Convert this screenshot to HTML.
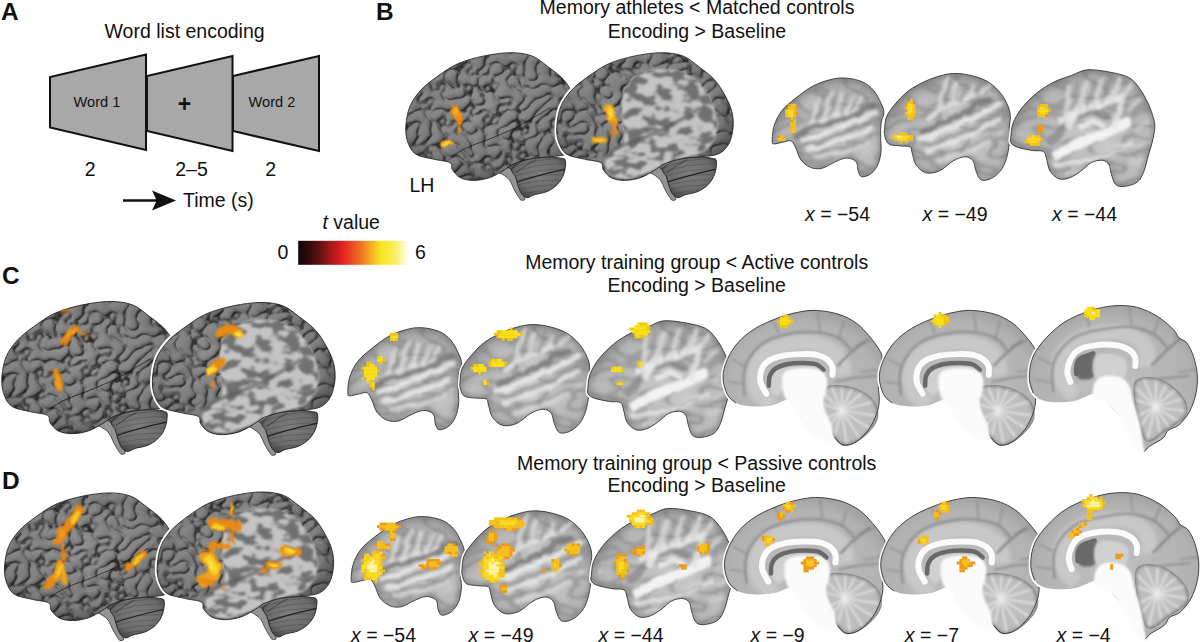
<!DOCTYPE html>
<html><head><meta charset="utf-8">
<style>
html,body{margin:0;padding:0;background:#fff;width:1200px;height:642px;overflow:hidden}
svg{display:block;font-family:"Liberation Sans",sans-serif}
.t{font-size:19.5px;fill:#111}
.lb{font-size:24.4px;font-weight:bold;fill:#111}
</style></head><body>
<svg width="1200" height="642" viewBox="0 0 1200 642">
<defs>

<linearGradient id="cbar" x1="0" x2="1" y1="0" y2="0">
<stop offset="0" stop-color="#0c0606"/><stop offset="0.15" stop-color="#4a0e0e"/><stop offset="0.4" stop-color="#e32020"/>
<stop offset="0.55" stop-color="#ef6a22"/><stop offset="0.75" stop-color="#f8e620"/><stop offset="0.88" stop-color="#f8f060"/>
<stop offset="1" stop-color="#fffff8"/></linearGradient>
<filter id="infl" x="0" y="0" width="1" height="1" color-interpolation-filters="sRGB">
  <feTurbulence type="fractalNoise" baseFrequency="0.07 0.12" numOctaves="2" seed="4" result="n"/>
  <feColorMatrix in="n" type="matrix" values="0 0 0 0 0  0 0 0 0 0  0 0 0 0 0  1 0 0 0 0" result="a"/>
  <feGaussianBlur in="a" stdDeviation="0.6" result="ab"/>
  <feComponentTransfer in="ab" result="m0"><feFuncA type="table" tableValues="1 1 1 1 1 1 1 1 0.9 0.45 0.05 0 0 0 0 0 0 0 0 0"/></feComponentTransfer>
  <feGaussianBlur in="m0" stdDeviation="1.0" result="m"/>
  <feComposite in="SourceGraphic" in2="m" operator="in"/>
</filter>
<filter id="slTex" x="0" y="0" width="1" height="1" color-interpolation-filters="sRGB">
  <feTurbulence type="turbulence" baseFrequency="0.035 0.07" numOctaves="1" seed="21" result="n"/>
  <feColorMatrix in="n" type="matrix" values="0 0 0 0 0  0 0 0 0 0  0 0 0 0 0  1 0 0 0 0" result="a"/>
  <feGaussianBlur in="a" stdDeviation="0.9" result="ab"/>
  <feComponentTransfer in="ab" result="dk"><feFuncA type="table" tableValues="0.4 0.15 0 0 0 0 0 0 0 0"/></feComponentTransfer>
  <feFlood flood-color="#6a6a6a" result="c1"/>
  <feComposite in="c1" in2="dk" operator="in" result="dark"/>
  <feComponentTransfer in="ab" result="lt"><feFuncA type="table" tableValues="0 0 0 0.1 0.3 0.5 0.65 0.75"/></feComponentTransfer>
  <feFlood flood-color="#ececec" result="c2"/>
  <feComposite in="c2" in2="lt" operator="in" result="light"/>
  <feMerge><feMergeNode in="SourceGraphic"/><feMergeNode in="light"/><feMergeNode in="dark"/></feMerge>
  <feComposite in2="SourceAlpha" operator="in"/>
</filter>
<filter id="blur1" filterUnits="userSpaceOnUse" x="-50" y="-50" width="1300" height="750"><feGaussianBlur stdDeviation="1.2"/></filter>
<filter id="blur2" filterUnits="userSpaceOnUse" x="-50" y="-50" width="1300" height="750"><feGaussianBlur stdDeviation="2"/></filter>
<filter id="blur05" filterUnits="userSpaceOnUse" x="-50" y="-50" width="1300" height="750"><feGaussianBlur stdDeviation="0.6"/></filter>
<filter id="blur03" x="-10%" y="-10%" width="120%" height="120%"><feGaussianBlur stdDeviation="0.35"/></filter>
<filter id="bl13" filterUnits="userSpaceOnUse" x="-50" y="-50" width="1300" height="750"><feGaussianBlur stdDeviation="1.7"/></filter>
<filter id="wob" filterUnits="userSpaceOnUse" x="-50" y="-50" width="1300" height="750">
  <feTurbulence type="fractalNoise" baseFrequency="0.12" numOctaves="1" seed="9" result="t"/>
  <feDisplacementMap in="SourceGraphic" in2="t" scale="6" xChannelSelector="R" yChannelSelector="G"/>
  <feGaussianBlur stdDeviation="0.6"/>
</filter>
<filter id="wavy" filterUnits="userSpaceOnUse" x="-50" y="-50" width="1300" height="750">
  <feTurbulence type="fractalNoise" baseFrequency="0.07" numOctaves="2" seed="13" result="t"/>
  <feDisplacementMap in="SourceGraphic" in2="t" scale="7" xChannelSelector="R" yChannelSelector="G"/>
  <feGaussianBlur stdDeviation="1.5"/>
</filter>
<filter id="bl" filterUnits="userSpaceOnUse" x="-50" y="-50" width="1300" height="750"><feGaussianBlur stdDeviation="1.1"/></filter>
<radialGradient id="shade3d" cx="0.45" cy="0.42" r="0.62">
  <stop offset="0" stop-color="#909090"/><stop offset="0.75" stop-color="#808080"/><stop offset="1" stop-color="#585858"/>
</radialGradient>
<radialGradient id="shadeSl" cx="0.55" cy="0.62" r="0.62">
  <stop offset="0" stop-color="#c6c6c6"/><stop offset="0.7" stop-color="#b8b8b8"/><stop offset="1" stop-color="#9c9c9c"/>
</radialGradient>
<radialGradient id="shadeMd" cx="0.5" cy="0.55" r="0.62">
  <stop offset="0" stop-color="#c0c0c0"/><stop offset="0.75" stop-color="#b2b2b2"/><stop offset="1" stop-color="#969696"/>
</radialGradient>
<radialGradient id="cbGrad" cx="0.5" cy="0.4" r="0.6"><stop offset="0" stop-color="#7c7c7c"/><stop offset="0.7" stop-color="#6c6c6c"/><stop offset="1" stop-color="#4a4a4a"/></radialGradient>
<filter id="gyri" x="0" y="0" width="1" height="1" color-interpolation-filters="sRGB">
  <feTurbulence type="turbulence" baseFrequency="0.075 0.085" numOctaves="1" seed="7" result="n"/>
  <feColorMatrix in="n" type="matrix" values="0 0 0 0 0  0 0 0 0 0  0 0 0 0 0  1 0 0 0 0" result="h"/>
  <feGaussianBlur in="h" stdDeviation="0.85" result="hb"/>
  <feComponentTransfer in="hb" result="h2"><feFuncA type="table" tableValues="0 0.72 0.9 0.97 1 1 1 1"/></feComponentTransfer>
  <feDiffuseLighting in="h2" surfaceScale="1.8" diffuseConstant="1.15" lighting-color="#fff" result="light"><feDistantLight azimuth="225" elevation="55"/></feDiffuseLighting>
  <feComposite in="light" in2="SourceGraphic" operator="arithmetic" k1="1" k2="0" k3="0" k4="0" result="lit"/>
  <feComponentTransfer in="hb" result="m0"><feFuncA type="table" tableValues="1 0.7 0.15 0 0 0 0 0 0 0 0 0 0 0 0 0 0 0 0 0 0 0 0 0 0 0 0 0 0 0 0 0 0 0 0 0 0 0 0 0 0 0 0"/></feComponentTransfer>
  <feGaussianBlur in="m0" stdDeviation="0.35" result="m"/>
  <feFlood flood-color="#1e1e1e" result="c"/>
  <feComposite in="c" in2="m" operator="in" result="lines"/>
  <feMerge><feMergeNode in="lit"/><feMergeNode in="lines"/></feMerge>
  <feComposite in2="SourceAlpha" operator="in"/>
</filter><filter id="gyri2" x="0" y="0" width="1" height="1" color-interpolation-filters="sRGB">
  <feTurbulence type="turbulence" baseFrequency="0.075 0.085" numOctaves="1" seed="12" result="n"/>
  <feColorMatrix in="n" type="matrix" values="0 0 0 0 0  0 0 0 0 0  0 0 0 0 0  1 0 0 0 0" result="h"/>
  <feGaussianBlur in="h" stdDeviation="0.85" result="hb"/>
  <feComponentTransfer in="hb" result="h2"><feFuncA type="table" tableValues="0 0.72 0.9 0.97 1 1 1 1"/></feComponentTransfer>
  <feDiffuseLighting in="h2" surfaceScale="1.8" diffuseConstant="1.15" lighting-color="#fff" result="light"><feDistantLight azimuth="225" elevation="55"/></feDiffuseLighting>
  <feComposite in="light" in2="SourceGraphic" operator="arithmetic" k1="1" k2="0" k3="0" k4="0" result="lit"/>
  <feComponentTransfer in="hb" result="m0"><feFuncA type="table" tableValues="1 0.7 0.15 0 0 0 0 0 0 0 0 0 0 0 0 0 0 0 0 0 0 0 0 0 0 0 0 0 0 0 0 0 0 0 0 0 0 0 0 0 0 0 0"/></feComponentTransfer>
  <feGaussianBlur in="m0" stdDeviation="0.35" result="m"/>
  <feFlood flood-color="#1e1e1e" result="c"/>
  <feComposite in="c" in2="m" operator="in" result="lines"/>
  <feMerge><feMergeNode in="lit"/><feMergeNode in="lines"/></feMerge>
  <feComposite in2="SourceAlpha" operator="in"/>
</filter><clipPath id="cbclip"><path d="M106.0,116.0 C107.7,113.2 114.0,109.0 119.8,107.1 C125.6,105.2 135.2,104.8 141.0,104.5 C146.8,104.2 151.7,104.9 154.8,105.5 C157.9,106.1 159.0,105.6 159.5,108.2 C160.0,110.8 159.2,117.0 157.9,120.9 C156.6,124.8 154.4,128.5 151.6,131.5 C148.8,134.5 144.9,137.1 141.0,138.8 C137.1,140.6 131.6,141.0 128.3,142.0 C125.0,143.0 123.1,145.2 121.0,145.0 C118.9,144.8 117.0,143.0 115.5,141.0 C114.0,139.0 113.0,135.8 112.0,133.0 C111.0,130.2 110.5,126.8 109.5,124.0 C108.5,121.2 104.3,118.8 106.0,116.0Z"/></clipPath><g id="brain3d"><path d="M54.3,125.0 C53.0,123.7 48.1,119.6 46.4,117.1 C44.7,114.6 47.1,111.8 44.0,110.0 C40.9,108.2 33.6,108.0 27.8,106.5 C22.0,105.0 13.7,104.3 9.3,101.2 C4.9,98.1 2.9,92.8 1.3,88.0 C-0.2,83.2 -0.5,77.8 0.0,72.1 C0.5,66.3 1.6,59.2 4.0,53.5 C6.4,47.8 10.2,42.5 14.6,37.6 C19.0,32.8 24.3,28.8 30.5,24.4 C36.7,20.0 43.8,14.6 51.7,11.1 C59.7,7.6 69.4,5.0 78.2,3.2 C87.0,1.4 96.8,0.0 104.7,0.0 C112.6,0.0 122.3,2.7 125.8,3.2" fill="none" stroke="#fff" stroke-width="4.5"/><path d="M95,114 L108,106 L122,108 L113,130 L106,124 L100,119 Z" fill="#505050"/><path d="M90.2,118.0 C90.4,119.3 94.8,120.5 97.0,122.0 C99.2,123.5 101.4,124.6 103.3,127.1 C105.2,129.6 106.7,134.1 108.3,137.1 C109.9,140.1 111.8,143.3 113.0,145.0 C114.2,146.7 114.3,147.3 115.3,147.5 C116.3,147.7 119.2,147.9 119.0,146.0 C118.8,144.1 115.5,139.7 114.0,136.0 C112.5,132.3 111.7,127.3 110.0,124.0 C108.3,120.7 106.3,117.7 104.0,116.0 C101.7,114.3 98.3,113.7 96.0,114.0 C93.7,114.3 90.0,116.7 90.2,118.0Z" fill="#939393" stroke="#333" stroke-width="0.8"/><path d="M106.0,116.0 C107.7,113.2 114.0,109.0 119.8,107.1 C125.6,105.2 135.2,104.8 141.0,104.5 C146.8,104.2 151.7,104.9 154.8,105.5 C157.9,106.1 159.0,105.6 159.5,108.2 C160.0,110.8 159.2,117.0 157.9,120.9 C156.6,124.8 154.4,128.5 151.6,131.5 C148.8,134.5 144.9,137.1 141.0,138.8 C137.1,140.6 131.6,141.0 128.3,142.0 C125.0,143.0 123.1,145.2 121.0,145.0 C118.9,144.8 117.0,143.0 115.5,141.0 C114.0,139.0 113.0,135.8 112.0,133.0 C111.0,130.2 110.5,126.8 109.5,124.0 C108.5,121.2 104.3,118.8 106.0,116.0Z" fill="url(#cbGrad)" stroke="#222" stroke-width="0.9"/><g clip-path="url(#cbclip)"><path d="M100,118.0 Q128,104.0 166,106.0" fill="none" stroke="#383838" stroke-width="0.6" opacity="0.55"/><path d="M100,122.6 Q128,109.2 166,111.5" fill="none" stroke="#383838" stroke-width="0.6" opacity="0.55"/><path d="M100,127.2 Q128,114.3 166,116.9" fill="none" stroke="#383838" stroke-width="0.6" opacity="0.55"/><path d="M100,131.8 Q128,119.5 166,122.4" fill="none" stroke="#383838" stroke-width="0.6" opacity="0.55"/><path d="M100,136.4 Q128,124.7 166,127.8" fill="none" stroke="#383838" stroke-width="0.6" opacity="0.55"/><path d="M100,141.0 Q128,129.9 166,133.3" fill="none" stroke="#383838" stroke-width="0.6" opacity="0.55"/><path d="M100,145.6 Q128,135.0 166,138.7" fill="none" stroke="#383838" stroke-width="0.6" opacity="0.55"/><path d="M100,150.2 Q128,140.2 166,144.2" fill="none" stroke="#383838" stroke-width="0.6" opacity="0.55"/><path d="M106,131 Q132,122 162,116" fill="none" stroke="#1e1e1e" stroke-width="1.2"/><path d="M110,120 Q120,112 130,107" fill="none" stroke="#2a2a2a" stroke-width="0.9" opacity="0.7"/></g><path d="M104.7,0.0 C112.6,0.0 119.6,0.9 125.8,3.2 C132.0,5.5 136.4,9.8 141.7,13.8 C147.0,17.8 153.2,22.1 157.6,27.0 C162.0,31.9 165.3,37.6 168.2,42.9 C171.1,48.2 173.6,53.5 174.9,58.8 C176.2,64.1 176.7,69.3 176.2,74.7 C175.7,80.1 174.4,86.6 172.0,91.0 C169.6,95.4 166.5,98.8 162.0,101.0 C157.5,103.2 151.2,103.2 145.0,104.0 C138.8,104.8 131.2,104.8 125.0,106.0 C118.8,107.2 112.7,109.0 108.0,111.0 C103.3,113.0 101.1,115.7 97.0,118.0 C92.9,120.3 88.4,123.4 83.5,125.0 C78.6,126.6 72.5,127.7 67.6,127.7 C62.7,127.7 57.8,126.8 54.3,125.0 C50.8,123.2 48.1,119.6 46.4,117.1 C44.7,114.6 47.1,111.8 44.0,110.0 C40.9,108.2 33.6,108.0 27.8,106.5 C22.0,105.0 13.7,104.3 9.3,101.2 C4.9,98.1 2.9,92.8 1.3,88.0 C-0.2,83.2 -0.5,77.8 0.0,72.1 C0.5,66.3 1.6,59.2 4.0,53.5 C6.4,47.8 10.2,42.5 14.6,37.6 C19.0,32.8 24.3,28.8 30.5,24.4 C36.7,20.0 43.8,14.6 51.7,11.1 C59.7,7.6 69.4,5.0 78.2,3.2 C87.0,1.4 96.8,0.0 104.7,0.0Z" fill="url(#shade3d)" filter="url(#gyri)"/><path d="M46.0,104.0 C47.7,102.9 52.3,99.5 56.0,97.5 C59.7,95.5 63.7,93.8 68.0,92.0 C72.3,90.2 77.3,88.8 82.0,87.0 C86.7,85.2 91.3,83.0 96.0,81.0 C100.7,79.0 105.7,77.2 110.0,75.0 C114.3,72.8 118.0,70.3 122.0,68.0 C126.0,65.7 130.3,63.2 134.0,61.0 C137.7,58.8 142.3,56.0 144.0,55.0" fill="none" stroke="#1a1a1a" stroke-width="1" opacity="0.75"/><path d="M104.7,0.0 C112.6,0.0 119.6,0.9 125.8,3.2 C132.0,5.5 136.4,9.8 141.7,13.8 C147.0,17.8 153.2,22.1 157.6,27.0 C162.0,31.9 165.3,37.6 168.2,42.9 C171.1,48.2 173.6,53.5 174.9,58.8 C176.2,64.1 176.7,69.3 176.2,74.7 C175.7,80.1 174.4,86.6 172.0,91.0 C169.6,95.4 166.5,98.8 162.0,101.0 C157.5,103.2 151.2,103.2 145.0,104.0 C138.8,104.8 131.2,104.8 125.0,106.0 C118.8,107.2 112.7,109.0 108.0,111.0 C103.3,113.0 101.1,115.7 97.0,118.0 C92.9,120.3 88.4,123.4 83.5,125.0 C78.6,126.6 72.5,127.7 67.6,127.7 C62.7,127.7 57.8,126.8 54.3,125.0 C50.8,123.2 48.1,119.6 46.4,117.1 C44.7,114.6 47.1,111.8 44.0,110.0 C40.9,108.2 33.6,108.0 27.8,106.5 C22.0,105.0 13.7,104.3 9.3,101.2 C4.9,98.1 2.9,92.8 1.3,88.0 C-0.2,83.2 -0.5,77.8 0.0,72.1 C0.5,66.3 1.6,59.2 4.0,53.5 C6.4,47.8 10.2,42.5 14.6,37.6 C19.0,32.8 24.3,28.8 30.5,24.4 C36.7,20.0 43.8,14.6 51.7,11.1 C59.7,7.6 69.4,5.0 78.2,3.2 C87.0,1.4 96.8,0.0 104.7,0.0Z" fill="none" stroke="#222" stroke-width="0.9"/></g><g id="brainInf"><path d="M54.3,125.0 C53.0,123.7 48.1,119.6 46.4,117.1 C44.7,114.6 47.1,111.8 44.0,110.0 C40.9,108.2 33.6,108.0 27.8,106.5 C22.0,105.0 13.7,104.3 9.3,101.2 C4.9,98.1 2.9,92.8 1.3,88.0 C-0.2,83.2 -0.5,77.8 0.0,72.1 C0.5,66.3 1.6,59.2 4.0,53.5 C6.4,47.8 10.2,42.5 14.6,37.6 C19.0,32.8 24.3,28.8 30.5,24.4 C36.7,20.0 43.8,14.6 51.7,11.1 C59.7,7.6 69.4,5.0 78.2,3.2 C87.0,1.4 96.8,0.0 104.7,0.0 C112.6,0.0 122.3,2.7 125.8,3.2" fill="none" stroke="#fff" stroke-width="4.5"/><path d="M95,114 L108,106 L122,108 L113,130 L106,124 L100,119 Z" fill="#505050"/><path d="M90.2,118.0 C90.4,119.3 94.8,120.5 97.0,122.0 C99.2,123.5 101.4,124.6 103.3,127.1 C105.2,129.6 106.7,134.1 108.3,137.1 C109.9,140.1 111.8,143.3 113.0,145.0 C114.2,146.7 114.3,147.3 115.3,147.5 C116.3,147.7 119.2,147.9 119.0,146.0 C118.8,144.1 115.5,139.7 114.0,136.0 C112.5,132.3 111.7,127.3 110.0,124.0 C108.3,120.7 106.3,117.7 104.0,116.0 C101.7,114.3 98.3,113.7 96.0,114.0 C93.7,114.3 90.0,116.7 90.2,118.0Z" fill="#939393" stroke="#333" stroke-width="0.8"/><path d="M106.0,116.0 C107.7,113.2 114.0,109.0 119.8,107.1 C125.6,105.2 135.2,104.8 141.0,104.5 C146.8,104.2 151.7,104.9 154.8,105.5 C157.9,106.1 159.0,105.6 159.5,108.2 C160.0,110.8 159.2,117.0 157.9,120.9 C156.6,124.8 154.4,128.5 151.6,131.5 C148.8,134.5 144.9,137.1 141.0,138.8 C137.1,140.6 131.6,141.0 128.3,142.0 C125.0,143.0 123.1,145.2 121.0,145.0 C118.9,144.8 117.0,143.0 115.5,141.0 C114.0,139.0 113.0,135.8 112.0,133.0 C111.0,130.2 110.5,126.8 109.5,124.0 C108.5,121.2 104.3,118.8 106.0,116.0Z" fill="url(#cbGrad)" stroke="#222" stroke-width="0.9"/><g clip-path="url(#cbclip)"><path d="M100,118.0 Q128,104.0 166,106.0" fill="none" stroke="#383838" stroke-width="0.6" opacity="0.55"/><path d="M100,122.6 Q128,109.2 166,111.5" fill="none" stroke="#383838" stroke-width="0.6" opacity="0.55"/><path d="M100,127.2 Q128,114.3 166,116.9" fill="none" stroke="#383838" stroke-width="0.6" opacity="0.55"/><path d="M100,131.8 Q128,119.5 166,122.4" fill="none" stroke="#383838" stroke-width="0.6" opacity="0.55"/><path d="M100,136.4 Q128,124.7 166,127.8" fill="none" stroke="#383838" stroke-width="0.6" opacity="0.55"/><path d="M100,141.0 Q128,129.9 166,133.3" fill="none" stroke="#383838" stroke-width="0.6" opacity="0.55"/><path d="M100,145.6 Q128,135.0 166,138.7" fill="none" stroke="#383838" stroke-width="0.6" opacity="0.55"/><path d="M100,150.2 Q128,140.2 166,144.2" fill="none" stroke="#383838" stroke-width="0.6" opacity="0.55"/><path d="M106,131 Q132,122 162,116" fill="none" stroke="#1e1e1e" stroke-width="1.2"/><path d="M110,120 Q120,112 130,107" fill="none" stroke="#2a2a2a" stroke-width="0.9" opacity="0.7"/></g><path d="M104.7,0.0 C112.6,0.0 119.6,0.9 125.8,3.2 C132.0,5.5 136.4,9.8 141.7,13.8 C147.0,17.8 153.2,22.1 157.6,27.0 C162.0,31.9 165.3,37.6 168.2,42.9 C171.1,48.2 173.6,53.5 174.9,58.8 C176.2,64.1 176.7,69.3 176.2,74.7 C175.7,80.1 174.4,86.6 172.0,91.0 C169.6,95.4 166.5,98.8 162.0,101.0 C157.5,103.2 151.2,103.2 145.0,104.0 C138.8,104.8 131.2,104.8 125.0,106.0 C118.8,107.2 112.7,109.0 108.0,111.0 C103.3,113.0 101.1,115.7 97.0,118.0 C92.9,120.3 88.4,123.4 83.5,125.0 C78.6,126.6 72.5,127.7 67.6,127.7 C62.7,127.7 57.8,126.8 54.3,125.0 C50.8,123.2 48.1,119.6 46.4,117.1 C44.7,114.6 47.1,111.8 44.0,110.0 C40.9,108.2 33.6,108.0 27.8,106.5 C22.0,105.0 13.7,104.3 9.3,101.2 C4.9,98.1 2.9,92.8 1.3,88.0 C-0.2,83.2 -0.5,77.8 0.0,72.1 C0.5,66.3 1.6,59.2 4.0,53.5 C6.4,47.8 10.2,42.5 14.6,37.6 C19.0,32.8 24.3,28.8 30.5,24.4 C36.7,20.0 43.8,14.6 51.7,11.1 C59.7,7.6 69.4,5.0 78.2,3.2 C87.0,1.4 96.8,0.0 104.7,0.0Z" fill="url(#shade3d)" filter="url(#gyri2)"/><path d="M67.6,37.6 C69.4,33.6 72.0,30.1 75.5,27.0 C79.0,23.9 83.9,20.9 88.8,19.1 C93.7,17.3 99.0,16.4 104.7,16.4 C110.4,16.4 117.5,17.3 123.2,19.1 C128.9,20.9 134.7,23.5 139.1,27.0 C143.5,30.5 146.6,35.4 149.7,40.3 C152.8,45.2 155.8,50.5 157.6,56.2 C159.4,61.9 160.7,69.0 160.3,74.7 C159.9,80.4 158.1,86.2 155.0,90.6 C151.9,95.0 147.4,98.5 141.7,101.2 C136.0,103.9 127.2,104.3 120.6,106.5 C114.0,108.7 107.8,111.8 102.0,114.5 C96.2,117.2 91.8,120.4 86.1,122.4 C80.4,124.4 72.9,126.4 67.6,126.4 C62.3,126.4 57.6,124.8 54.3,122.4 C51.0,120.0 48.1,115.3 47.7,111.8 C47.3,108.3 48.8,104.3 51.7,101.2 C54.6,98.1 62.3,96.8 64.9,93.3 C67.6,89.8 67.6,84.4 67.6,80.0 C67.6,75.6 65.4,71.6 64.9,66.8 C64.5,61.9 64.5,55.8 64.9,50.9 C65.4,46.0 65.8,41.6 67.6,37.6Z" fill="#c4c4c4" filter="url(#blur1)"/><path d="M67.6,37.6 C69.4,33.6 72.0,30.1 75.5,27.0 C79.0,23.9 83.9,20.9 88.8,19.1 C93.7,17.3 99.0,16.4 104.7,16.4 C110.4,16.4 117.5,17.3 123.2,19.1 C128.9,20.9 134.7,23.5 139.1,27.0 C143.5,30.5 146.6,35.4 149.7,40.3 C152.8,45.2 155.8,50.5 157.6,56.2 C159.4,61.9 160.7,69.0 160.3,74.7 C159.9,80.4 158.1,86.2 155.0,90.6 C151.9,95.0 147.4,98.5 141.7,101.2 C136.0,103.9 127.2,104.3 120.6,106.5 C114.0,108.7 107.8,111.8 102.0,114.5 C96.2,117.2 91.8,120.4 86.1,122.4 C80.4,124.4 72.9,126.4 67.6,126.4 C62.3,126.4 57.6,124.8 54.3,122.4 C51.0,120.0 48.1,115.3 47.7,111.8 C47.3,108.3 48.8,104.3 51.7,101.2 C54.6,98.1 62.3,96.8 64.9,93.3 C67.6,89.8 67.6,84.4 67.6,80.0 C67.6,75.6 65.4,71.6 64.9,66.8 C64.5,61.9 64.5,55.8 64.9,50.9 C65.4,46.0 65.8,41.6 67.6,37.6Z" fill="#707070" filter="url(#infl)"/><path d="M46.0,104.0 C47.7,102.9 52.3,99.5 56.0,97.5 C59.7,95.5 63.7,93.8 68.0,92.0 C72.3,90.2 77.3,88.8 82.0,87.0 C86.7,85.2 91.3,83.0 96.0,81.0 C100.7,79.0 105.7,77.2 110.0,75.0 C114.3,72.8 118.0,70.3 122.0,68.0 C126.0,65.7 130.3,63.2 134.0,61.0 C137.7,58.8 142.3,56.0 144.0,55.0" fill="none" stroke="#5a5a5a" stroke-width="4" opacity="0.6" filter="url(#blur1)"/><path d="M104.7,0.0 C112.6,0.0 119.6,0.9 125.8,3.2 C132.0,5.5 136.4,9.8 141.7,13.8 C147.0,17.8 153.2,22.1 157.6,27.0 C162.0,31.9 165.3,37.6 168.2,42.9 C171.1,48.2 173.6,53.5 174.9,58.8 C176.2,64.1 176.7,69.3 176.2,74.7 C175.7,80.1 174.4,86.6 172.0,91.0 C169.6,95.4 166.5,98.8 162.0,101.0 C157.5,103.2 151.2,103.2 145.0,104.0 C138.8,104.8 131.2,104.8 125.0,106.0 C118.8,107.2 112.7,109.0 108.0,111.0 C103.3,113.0 101.1,115.7 97.0,118.0 C92.9,120.3 88.4,123.4 83.5,125.0 C78.6,126.6 72.5,127.7 67.6,127.7 C62.7,127.7 57.8,126.8 54.3,125.0 C50.8,123.2 48.1,119.6 46.4,117.1 C44.7,114.6 47.1,111.8 44.0,110.0 C40.9,108.2 33.6,108.0 27.8,106.5 C22.0,105.0 13.7,104.3 9.3,101.2 C4.9,98.1 2.9,92.8 1.3,88.0 C-0.2,83.2 -0.5,77.8 0.0,72.1 C0.5,66.3 1.6,59.2 4.0,53.5 C6.4,47.8 10.2,42.5 14.6,37.6 C19.0,32.8 24.3,28.8 30.5,24.4 C36.7,20.0 43.8,14.6 51.7,11.1 C59.7,7.6 69.4,5.0 78.2,3.2 C87.0,1.4 96.8,0.0 104.7,0.0Z" fill="none" stroke="#222" stroke-width="0.9"/></g><clipPath id="clipL54"><path d="M0.0,65.1 C0.0,62.0 0.3,54.8 1.9,49.6 C3.5,44.4 6.1,38.7 9.7,34.0 C13.3,29.3 18.1,25.5 23.3,21.3 C28.5,17.1 35.0,11.9 40.9,8.7 C46.8,5.5 52.9,3.3 58.4,1.9 C63.9,0.4 68.4,-0.3 73.9,0.0 C79.4,0.3 86.6,1.7 91.5,3.8 C96.4,5.9 99.9,8.9 103.1,12.6 C106.3,16.3 109.1,22.3 110.9,26.2 C112.7,30.1 113.8,32.8 113.8,36.0 C113.8,39.2 111.6,41.5 111.0,45.7 C110.4,49.9 110.4,56.4 110.4,61.3 C110.4,66.2 111.3,70.4 110.9,74.9 C110.5,79.4 109.6,84.6 108.0,88.5 C106.4,92.4 104.0,96.0 101.2,98.3 C98.5,100.6 93.8,102.4 91.5,102.1 C89.2,101.8 88.6,98.9 87.6,96.3 C86.6,93.7 87.5,88.9 85.6,86.6 C83.6,84.3 79.5,82.7 75.9,82.7 C72.3,82.7 68.4,84.8 64.2,86.6 C60.0,88.4 54.8,92.3 50.6,93.3 C46.4,94.2 42.5,93.8 38.9,92.3 C35.3,90.8 31.6,87.8 29.2,84.6 C26.8,81.4 25.9,76.2 24.3,72.9 C22.7,69.7 21.5,66.2 19.4,65.1 C17.3,64.0 14.6,65.6 11.7,66.1 C8.8,66.6 3.8,68.3 1.9,68.1 C-0.1,67.9 0.0,68.2 0.0,65.1Z"/></clipPath><g id="L54"><path d="M0.0,65.1 C0.0,62.0 0.3,54.8 1.9,49.6 C3.5,44.4 6.1,38.7 9.7,34.0 C13.3,29.3 18.1,25.5 23.3,21.3 C28.5,17.1 35.0,11.9 40.9,8.7 C46.8,5.5 52.9,3.3 58.4,1.9 C63.9,0.4 68.4,-0.3 73.9,0.0 C79.4,0.3 86.6,1.7 91.5,3.8 C96.4,5.9 99.9,8.9 103.1,12.6 C106.3,16.3 109.1,22.3 110.9,26.2 C112.7,30.1 113.8,32.8 113.8,36.0 C113.8,39.2 111.6,41.5 111.0,45.7 C110.4,49.9 110.4,56.4 110.4,61.3 C110.4,66.2 111.3,70.4 110.9,74.9 C110.5,79.4 109.6,84.6 108.0,88.5 C106.4,92.4 104.0,96.0 101.2,98.3 C98.5,100.6 93.8,102.4 91.5,102.1 C89.2,101.8 88.6,98.9 87.6,96.3 C86.6,93.7 87.5,88.9 85.6,86.6 C83.6,84.3 79.5,82.7 75.9,82.7 C72.3,82.7 68.4,84.8 64.2,86.6 C60.0,88.4 54.8,92.3 50.6,93.3 C46.4,94.2 42.5,93.8 38.9,92.3 C35.3,90.8 31.6,87.8 29.2,84.6 C26.8,81.4 25.9,76.2 24.3,72.9 C22.7,69.7 21.5,66.2 19.4,65.1 C17.3,64.0 14.6,65.6 11.7,66.1 C8.8,66.6 3.8,68.3 1.9,68.1 C-0.1,67.9 0.0,68.2 0.0,65.1Z" fill="none" stroke="#fff" stroke-width="4"/><path d="M0.0,65.1 C0.0,62.0 0.3,54.8 1.9,49.6 C3.5,44.4 6.1,38.7 9.7,34.0 C13.3,29.3 18.1,25.5 23.3,21.3 C28.5,17.1 35.0,11.9 40.9,8.7 C46.8,5.5 52.9,3.3 58.4,1.9 C63.9,0.4 68.4,-0.3 73.9,0.0 C79.4,0.3 86.6,1.7 91.5,3.8 C96.4,5.9 99.9,8.9 103.1,12.6 C106.3,16.3 109.1,22.3 110.9,26.2 C112.7,30.1 113.8,32.8 113.8,36.0 C113.8,39.2 111.6,41.5 111.0,45.7 C110.4,49.9 110.4,56.4 110.4,61.3 C110.4,66.2 111.3,70.4 110.9,74.9 C110.5,79.4 109.6,84.6 108.0,88.5 C106.4,92.4 104.0,96.0 101.2,98.3 C98.5,100.6 93.8,102.4 91.5,102.1 C89.2,101.8 88.6,98.9 87.6,96.3 C86.6,93.7 87.5,88.9 85.6,86.6 C83.6,84.3 79.5,82.7 75.9,82.7 C72.3,82.7 68.4,84.8 64.2,86.6 C60.0,88.4 54.8,92.3 50.6,93.3 C46.4,94.2 42.5,93.8 38.9,92.3 C35.3,90.8 31.6,87.8 29.2,84.6 C26.8,81.4 25.9,76.2 24.3,72.9 C22.7,69.7 21.5,66.2 19.4,65.1 C17.3,64.0 14.6,65.6 11.7,66.1 C8.8,66.6 3.8,68.3 1.9,68.1 C-0.1,67.9 0.0,68.2 0.0,65.1Z" fill="url(#shadeSl)" filter="url(#slTex)"/><g clip-path="url(#clipL54)"><path d="M0.0,65.1 C0.0,62.0 0.3,54.8 1.9,49.6 C3.5,44.4 6.1,38.7 9.7,34.0 C13.3,29.3 18.1,25.5 23.3,21.3 C28.5,17.1 35.0,11.9 40.9,8.7 C46.8,5.5 52.9,3.3 58.4,1.9 C63.9,0.4 68.4,-0.3 73.9,0.0 C79.4,0.3 86.6,1.7 91.5,3.8 C96.4,5.9 99.9,8.9 103.1,12.6 C106.3,16.3 109.1,22.3 110.9,26.2 C112.7,30.1 113.8,32.8 113.8,36.0 C113.8,39.2 111.6,41.5 111.0,45.7 C110.4,49.9 110.4,56.4 110.4,61.3 C110.4,66.2 111.3,70.4 110.9,74.9 C110.5,79.4 109.6,84.6 108.0,88.5 C106.4,92.4 104.0,96.0 101.2,98.3 C98.5,100.6 93.8,102.4 91.5,102.1 C89.2,101.8 88.6,98.9 87.6,96.3 C86.6,93.7 87.5,88.9 85.6,86.6 C83.6,84.3 79.5,82.7 75.9,82.7 C72.3,82.7 68.4,84.8 64.2,86.6 C60.0,88.4 54.8,92.3 50.6,93.3 C46.4,94.2 42.5,93.8 38.9,92.3 C35.3,90.8 31.6,87.8 29.2,84.6 C26.8,81.4 25.9,76.2 24.3,72.9 C22.7,69.7 21.5,66.2 19.4,65.1 C17.3,64.0 14.6,65.6 11.7,66.1 C8.8,66.6 3.8,68.3 1.9,68.1 C-0.1,67.9 0.0,68.2 0.0,65.1Z" fill="none" stroke="#7a7a7a" stroke-width="7" opacity="0.45" filter="url(#blur2)"/><g filter="url(#wavy)"><path d="M24.0,61.0 C25.3,60.2 29.3,57.7 32.0,56.0 C34.7,54.3 37.7,52.2 40.0,51.0 C42.3,49.8 44.0,49.6 46.0,49.0 C48.0,48.4 50.0,48.0 52.0,47.5 C54.0,47.0 56.0,46.6 58.0,46.0 C60.0,45.4 62.0,44.5 64.0,44.0 C66.0,43.5 67.8,43.3 70.0,43.0 C72.2,42.7 74.7,42.8 77.0,42.0 C79.3,41.2 81.8,39.1 84.0,38.0 C86.2,36.9 87.8,36.8 90.0,35.6 C92.2,34.4 94.7,32.4 97.0,31.0 C99.3,29.6 102.8,27.7 104.0,27.0" fill="none" stroke="#7a7a7a" stroke-width="5.3" stroke-linecap="round" stroke-linejoin="round" opacity="0.85"/><path d="M35.5,69.0 C40.8,67.3 56.8,62.7 67.0,59.0 C77.2,55.3 90.2,49.7 97.0,47.0 C103.8,44.3 106.2,43.7 108.0,43.0" fill="none" stroke="#8a8a8a" stroke-width="4.7" stroke-linecap="round" stroke-linejoin="round" opacity="0.65"/><path d="M44.0,77.0 C49.5,75.9 67.6,73.3 77.0,70.6 C86.4,67.9 96.6,62.3 100.5,60.6" fill="none" stroke="#8a8a8a" stroke-width="4.0" stroke-linecap="round" stroke-linejoin="round" opacity="0.55"/><path d="M31.0,65.0 C33.8,64.0 42.5,61.0 48.0,59.0 C53.5,57.0 58.7,55.0 64.0,53.0 C69.3,51.0 75.3,49.0 80.0,47.0 C84.7,45.0 88.0,42.9 92.0,41.0 C96.0,39.1 102.0,36.5 104.0,35.6" fill="none" stroke="#e6e6e6" stroke-width="5.6" stroke-linecap="round" stroke-linejoin="round" opacity="0.95"/><path d="M37.0,74.0 C39.5,73.3 46.8,71.5 52.0,70.0 C57.2,68.5 62.7,66.8 68.0,65.0 C73.3,63.2 78.5,61.2 84.0,59.0 C89.5,56.8 98.2,53.2 101.0,52.0" fill="none" stroke="#e6e6e6" stroke-width="5.3" stroke-linecap="round" stroke-linejoin="round" opacity="0.9"/><path d="M44.0,81.0 C46.7,80.7 54.7,79.8 60.0,79.0 C65.3,78.2 69.8,78.0 76.0,76.0 C82.2,74.0 93.5,68.5 97.0,67.0" fill="none" stroke="#d8d8d8" stroke-width="4.7" stroke-linecap="round" stroke-linejoin="round" opacity="0.75"/><path d="M38.9,45.6 C40.8,45.2 46.1,43.9 50.0,43.0 C53.9,42.1 58.0,41.1 62.0,40.0 C66.0,38.9 70.3,37.7 74.0,36.5 C77.7,35.3 82.3,33.6 84.0,33.0" fill="none" stroke="#e6e6e6" stroke-width="4.7" stroke-linecap="round" stroke-linejoin="round" opacity="0.8"/><path d="M38.9,47.3 C39.6,45.1 41.6,38.2 43.0,34.0 C44.4,29.8 46.5,24.2 47.2,22.3" fill="none" stroke="#d8d8d8" stroke-width="4.0" stroke-linecap="round" stroke-linejoin="round" opacity="0.85"/><path d="M52.2,42.3 C52.8,39.9 54.6,32.5 56.0,28.0 C57.4,23.6 59.8,17.7 60.5,15.6" fill="none" stroke="#d8d8d8" stroke-width="4.0" stroke-linecap="round" stroke-linejoin="round" opacity="0.85"/><path d="M63.9,39.0 C64.4,37.2 65.9,31.6 67.0,28.0 C68.1,24.4 69.9,19.1 70.5,17.3" fill="none" stroke="#d8d8d8" stroke-width="4.0" stroke-linecap="round" stroke-linejoin="round" opacity="0.85"/><path d="M75.5,37.3 C76.2,35.6 78.6,30.1 80.0,27.0 C81.4,23.9 83.2,20.3 83.9,19.0" fill="none" stroke="#d8d8d8" stroke-width="4.0" stroke-linecap="round" stroke-linejoin="round" opacity="0.85"/><path d="M85.5,30.6 C86.6,28.9 91.1,22.3 92.2,20.6" fill="none" stroke="#d8d8d8" stroke-width="4.0" stroke-linecap="round" stroke-linejoin="round" opacity="0.8"/><path d="M45.5,44.0 C45.9,41.7 46.9,34.5 48.0,30.0 C49.1,25.6 51.5,19.4 52.2,17.3" fill="none" stroke="#8a8a8a" stroke-width="3.4" stroke-linecap="round" stroke-linejoin="round" opacity="0.55"/><path d="M58.9,40.6 C59.4,38.3 60.9,31.4 62.0,27.0 C63.1,22.6 64.9,16.2 65.5,14.0" fill="none" stroke="#8a8a8a" stroke-width="3.4" stroke-linecap="round" stroke-linejoin="round" opacity="0.55"/><path d="M70.5,37.3 C71.1,35.2 72.9,28.6 74.0,25.0 C75.1,21.4 76.7,17.2 77.2,15.6" fill="none" stroke="#8a8a8a" stroke-width="3.4" stroke-linecap="round" stroke-linejoin="round" opacity="0.55"/><path d="M80.5,34.0 C81.6,31.2 86.1,20.1 87.2,17.3" fill="none" stroke="#8a8a8a" stroke-width="3.4" stroke-linecap="round" stroke-linejoin="round" opacity="0.55"/><path d="M96.0,40.0 C97.7,39.3 104.3,36.7 106.0,36.0" fill="none" stroke="#d8d8d8" stroke-width="3.4" stroke-linecap="round" stroke-linejoin="round" opacity="0.5"/></g></g><path d="M0.0,65.1 C0.0,62.0 0.3,54.8 1.9,49.6 C3.5,44.4 6.1,38.7 9.7,34.0 C13.3,29.3 18.1,25.5 23.3,21.3 C28.5,17.1 35.0,11.9 40.9,8.7 C46.8,5.5 52.9,3.3 58.4,1.9 C63.9,0.4 68.4,-0.3 73.9,0.0 C79.4,0.3 86.6,1.7 91.5,3.8 C96.4,5.9 99.9,8.9 103.1,12.6 C106.3,16.3 109.1,22.3 110.9,26.2 C112.7,30.1 113.8,32.8 113.8,36.0 C113.8,39.2 111.6,41.5 111.0,45.7 C110.4,49.9 110.4,56.4 110.4,61.3 C110.4,66.2 111.3,70.4 110.9,74.9 C110.5,79.4 109.6,84.6 108.0,88.5 C106.4,92.4 104.0,96.0 101.2,98.3 C98.5,100.6 93.8,102.4 91.5,102.1 C89.2,101.8 88.6,98.9 87.6,96.3 C86.6,93.7 87.5,88.9 85.6,86.6 C83.6,84.3 79.5,82.7 75.9,82.7 C72.3,82.7 68.4,84.8 64.2,86.6 C60.0,88.4 54.8,92.3 50.6,93.3 C46.4,94.2 42.5,93.8 38.9,92.3 C35.3,90.8 31.6,87.8 29.2,84.6 C26.8,81.4 25.9,76.2 24.3,72.9 C22.7,69.7 21.5,66.2 19.4,65.1 C17.3,64.0 14.6,65.6 11.7,66.1 C8.8,66.6 3.8,68.3 1.9,68.1 C-0.1,67.9 0.0,68.2 0.0,65.1Z" fill="none" stroke="#333" stroke-width="0.9"/></g><clipPath id="clipL49"><path d="M0.0,56.3 C0.3,53.3 0.3,48.1 2.0,44.1 C3.7,40.1 6.4,36.4 10.1,32.0 C13.8,27.6 18.9,21.9 24.3,17.8 C29.7,13.8 37.1,10.2 42.5,7.7 C47.9,5.2 52.0,3.9 56.7,2.6 C61.4,1.3 65.8,0.2 70.9,0.0 C76.0,-0.2 81.4,0.3 87.1,1.6 C92.8,2.9 99.9,4.7 105.3,7.7 C110.7,10.7 115.8,15.4 119.5,19.8 C123.2,24.2 125.9,29.9 127.6,34.0 C129.3,38.0 129.4,40.7 129.6,44.1 C129.8,47.5 128.8,49.8 128.6,54.2 C128.4,58.6 129.1,65.0 128.6,70.4 C128.1,75.8 127.0,81.9 125.5,86.6 C124.0,91.3 122.2,95.4 119.5,98.8 C116.8,102.2 112.7,105.4 109.3,106.9 C105.9,108.4 101.7,109.2 99.2,107.9 C96.7,106.6 95.6,102.0 94.2,98.8 C92.8,95.6 93.0,91.0 91.1,88.6 C89.2,86.2 86.4,84.6 83.0,84.6 C79.6,84.6 75.3,86.2 70.9,88.6 C66.5,91.0 61.4,96.8 56.7,98.8 C52.0,100.8 46.5,101.8 42.5,100.8 C38.5,99.8 34.8,96.1 32.4,92.7 C30.0,89.3 29.4,83.5 28.4,80.5 C27.4,77.5 28.3,75.7 26.3,74.5 C24.3,73.3 19.9,74.0 16.2,73.5 C12.5,73.0 6.8,73.3 4.1,71.4 C1.4,69.5 0.7,64.8 0.0,62.3 C-0.7,59.8 -0.3,59.3 0.0,56.3Z"/></clipPath><g id="L49"><path d="M0.0,56.3 C0.3,53.3 0.3,48.1 2.0,44.1 C3.7,40.1 6.4,36.4 10.1,32.0 C13.8,27.6 18.9,21.9 24.3,17.8 C29.7,13.8 37.1,10.2 42.5,7.7 C47.9,5.2 52.0,3.9 56.7,2.6 C61.4,1.3 65.8,0.2 70.9,0.0 C76.0,-0.2 81.4,0.3 87.1,1.6 C92.8,2.9 99.9,4.7 105.3,7.7 C110.7,10.7 115.8,15.4 119.5,19.8 C123.2,24.2 125.9,29.9 127.6,34.0 C129.3,38.0 129.4,40.7 129.6,44.1 C129.8,47.5 128.8,49.8 128.6,54.2 C128.4,58.6 129.1,65.0 128.6,70.4 C128.1,75.8 127.0,81.9 125.5,86.6 C124.0,91.3 122.2,95.4 119.5,98.8 C116.8,102.2 112.7,105.4 109.3,106.9 C105.9,108.4 101.7,109.2 99.2,107.9 C96.7,106.6 95.6,102.0 94.2,98.8 C92.8,95.6 93.0,91.0 91.1,88.6 C89.2,86.2 86.4,84.6 83.0,84.6 C79.6,84.6 75.3,86.2 70.9,88.6 C66.5,91.0 61.4,96.8 56.7,98.8 C52.0,100.8 46.5,101.8 42.5,100.8 C38.5,99.8 34.8,96.1 32.4,92.7 C30.0,89.3 29.4,83.5 28.4,80.5 C27.4,77.5 28.3,75.7 26.3,74.5 C24.3,73.3 19.9,74.0 16.2,73.5 C12.5,73.0 6.8,73.3 4.1,71.4 C1.4,69.5 0.7,64.8 0.0,62.3 C-0.7,59.8 -0.3,59.3 0.0,56.3Z" fill="none" stroke="#fff" stroke-width="4"/><path d="M0.0,56.3 C0.3,53.3 0.3,48.1 2.0,44.1 C3.7,40.1 6.4,36.4 10.1,32.0 C13.8,27.6 18.9,21.9 24.3,17.8 C29.7,13.8 37.1,10.2 42.5,7.7 C47.9,5.2 52.0,3.9 56.7,2.6 C61.4,1.3 65.8,0.2 70.9,0.0 C76.0,-0.2 81.4,0.3 87.1,1.6 C92.8,2.9 99.9,4.7 105.3,7.7 C110.7,10.7 115.8,15.4 119.5,19.8 C123.2,24.2 125.9,29.9 127.6,34.0 C129.3,38.0 129.4,40.7 129.6,44.1 C129.8,47.5 128.8,49.8 128.6,54.2 C128.4,58.6 129.1,65.0 128.6,70.4 C128.1,75.8 127.0,81.9 125.5,86.6 C124.0,91.3 122.2,95.4 119.5,98.8 C116.8,102.2 112.7,105.4 109.3,106.9 C105.9,108.4 101.7,109.2 99.2,107.9 C96.7,106.6 95.6,102.0 94.2,98.8 C92.8,95.6 93.0,91.0 91.1,88.6 C89.2,86.2 86.4,84.6 83.0,84.6 C79.6,84.6 75.3,86.2 70.9,88.6 C66.5,91.0 61.4,96.8 56.7,98.8 C52.0,100.8 46.5,101.8 42.5,100.8 C38.5,99.8 34.8,96.1 32.4,92.7 C30.0,89.3 29.4,83.5 28.4,80.5 C27.4,77.5 28.3,75.7 26.3,74.5 C24.3,73.3 19.9,74.0 16.2,73.5 C12.5,73.0 6.8,73.3 4.1,71.4 C1.4,69.5 0.7,64.8 0.0,62.3 C-0.7,59.8 -0.3,59.3 0.0,56.3Z" fill="url(#shadeSl)" filter="url(#slTex)"/><g clip-path="url(#clipL49)"><path d="M0.0,56.3 C0.3,53.3 0.3,48.1 2.0,44.1 C3.7,40.1 6.4,36.4 10.1,32.0 C13.8,27.6 18.9,21.9 24.3,17.8 C29.7,13.8 37.1,10.2 42.5,7.7 C47.9,5.2 52.0,3.9 56.7,2.6 C61.4,1.3 65.8,0.2 70.9,0.0 C76.0,-0.2 81.4,0.3 87.1,1.6 C92.8,2.9 99.9,4.7 105.3,7.7 C110.7,10.7 115.8,15.4 119.5,19.8 C123.2,24.2 125.9,29.9 127.6,34.0 C129.3,38.0 129.4,40.7 129.6,44.1 C129.8,47.5 128.8,49.8 128.6,54.2 C128.4,58.6 129.1,65.0 128.6,70.4 C128.1,75.8 127.0,81.9 125.5,86.6 C124.0,91.3 122.2,95.4 119.5,98.8 C116.8,102.2 112.7,105.4 109.3,106.9 C105.9,108.4 101.7,109.2 99.2,107.9 C96.7,106.6 95.6,102.0 94.2,98.8 C92.8,95.6 93.0,91.0 91.1,88.6 C89.2,86.2 86.4,84.6 83.0,84.6 C79.6,84.6 75.3,86.2 70.9,88.6 C66.5,91.0 61.4,96.8 56.7,98.8 C52.0,100.8 46.5,101.8 42.5,100.8 C38.5,99.8 34.8,96.1 32.4,92.7 C30.0,89.3 29.4,83.5 28.4,80.5 C27.4,77.5 28.3,75.7 26.3,74.5 C24.3,73.3 19.9,74.0 16.2,73.5 C12.5,73.0 6.8,73.3 4.1,71.4 C1.4,69.5 0.7,64.8 0.0,62.3 C-0.7,59.8 -0.3,59.3 0.0,56.3Z" fill="none" stroke="#7a7a7a" stroke-width="7" opacity="0.45" filter="url(#blur2)"/><g filter="url(#wavy)"><path d="M38.0,61.0 C39.3,60.2 43.7,57.2 46.0,56.0 C48.3,54.8 50.3,55.0 52.0,54.0 C53.7,53.0 54.5,50.8 56.0,50.0 C57.5,49.2 59.5,48.8 61.0,49.0 C62.5,49.2 63.7,51.5 65.0,51.0 C66.3,50.5 67.5,47.2 69.0,46.0 C70.5,44.8 72.5,44.2 74.0,44.0 C75.5,43.8 76.7,45.7 78.0,45.0 C79.3,44.3 80.3,41.3 82.0,40.0 C83.7,38.7 86.2,38.2 88.0,37.0 C89.8,35.8 91.0,34.3 93.0,33.0 C95.0,31.7 97.5,30.3 100.0,29.0 C102.5,27.7 106.7,25.7 108.0,25.0" fill="none" stroke="#7a7a7a" stroke-width="5.6" stroke-linecap="round" stroke-linejoin="round" opacity="0.85"/><path d="M40.0,72.0 C45.0,70.7 60.0,67.3 70.0,64.0 C80.0,60.7 92.0,55.5 100.0,52.0 C108.0,48.5 115.0,44.5 118.0,43.0" fill="none" stroke="#8a8a8a" stroke-width="4.0" stroke-linecap="round" stroke-linejoin="round" opacity="0.6"/><path d="M50.0,84.0 C55.0,82.8 70.0,80.3 80.0,77.0 C90.0,73.7 105.0,66.2 110.0,64.0" fill="none" stroke="#8a8a8a" stroke-width="3.7" stroke-linecap="round" stroke-linejoin="round" opacity="0.5"/><path d="M37.0,67.0 C40.0,65.8 48.8,62.3 55.0,60.0 C61.2,57.7 66.7,56.2 74.0,53.0 C81.3,49.8 91.7,44.7 99.0,41.0 C106.3,37.3 114.8,32.7 118.0,31.0" fill="none" stroke="#e6e6e6" stroke-width="6.2" stroke-linecap="round" stroke-linejoin="round" opacity="0.95"/><path d="M44.0,78.0 C48.3,76.7 61.3,73.3 70.0,70.0 C78.7,66.7 88.0,61.7 96.0,58.0 C104.0,54.3 114.3,49.7 118.0,48.0" fill="none" stroke="#e6e6e6" stroke-width="5.3" stroke-linecap="round" stroke-linejoin="round" opacity="0.85"/><path d="M55.0,88.0 C59.2,87.0 71.5,85.0 80.0,82.0 C88.5,79.0 101.7,72.0 106.0,70.0" fill="none" stroke="#d8d8d8" stroke-width="4.7" stroke-linecap="round" stroke-linejoin="round" opacity="0.7"/><path d="M44.0,47.0 C45.7,45.5 51.0,40.2 54.0,38.0 C57.0,35.8 59.3,35.2 62.0,34.0 C64.7,32.8 67.0,31.7 70.0,30.6 C73.0,29.5 77.0,28.6 80.0,27.5 C83.0,26.4 84.8,25.7 88.0,24.3 C91.2,22.9 97.2,20.1 99.0,19.2" fill="none" stroke="#e6e6e6" stroke-width="5.0" stroke-linecap="round" stroke-linejoin="round" opacity="0.85"/><path d="M54.4,37.0 C54.8,35.5 56.1,30.9 57.0,28.0 C57.9,25.1 58.3,23.5 59.6,19.5 C60.9,15.5 63.8,6.7 64.6,4.1" fill="none" stroke="#d8d8d8" stroke-width="4.3" stroke-linecap="round" stroke-linejoin="round" opacity="0.85"/><path d="M69.8,30.6 C70.0,28.8 70.4,23.6 71.0,20.0 C71.6,16.4 73.2,10.9 73.6,9.1" fill="none" stroke="#d8d8d8" stroke-width="4.3" stroke-linecap="round" stroke-linejoin="round" opacity="0.85"/><path d="M87.7,24.3 C88.6,22.2 92.0,13.7 92.9,11.6" fill="none" stroke="#d8d8d8" stroke-width="4.3" stroke-linecap="round" stroke-linejoin="round" opacity="0.8"/><path d="M99.4,19.2 C100.9,17.7 106.9,11.9 108.4,10.4" fill="none" stroke="#d8d8d8" stroke-width="4.0" stroke-linecap="round" stroke-linejoin="round" opacity="0.75"/><path d="M62.0,32.0 C62.3,30.0 63.0,24.0 64.0,20.0 C65.0,16.0 67.3,10.0 68.0,8.0" fill="none" stroke="#8a8a8a" stroke-width="3.4" stroke-linecap="round" stroke-linejoin="round" opacity="0.55"/><path d="M79.0,27.0 C79.5,25.2 81.2,19.5 82.0,16.0 C82.8,12.5 83.7,7.7 84.0,6.0" fill="none" stroke="#8a8a8a" stroke-width="3.4" stroke-linecap="round" stroke-linejoin="round" opacity="0.55"/><path d="M95.0,21.0 C95.8,19.2 99.2,11.8 100.0,10.0" fill="none" stroke="#8a8a8a" stroke-width="3.4" stroke-linecap="round" stroke-linejoin="round" opacity="0.55"/><path d="M112.0,34.0 C114.0,33.3 122.0,30.7 124.0,30.0" fill="none" stroke="#d8d8d8" stroke-width="3.7" stroke-linecap="round" stroke-linejoin="round" opacity="0.5"/><path d="M116.0,60.0 C117.7,59.3 124.3,56.7 126.0,56.0" fill="none" stroke="#d8d8d8" stroke-width="3.7" stroke-linecap="round" stroke-linejoin="round" opacity="0.5"/></g></g><path d="M0.0,56.3 C0.3,53.3 0.3,48.1 2.0,44.1 C3.7,40.1 6.4,36.4 10.1,32.0 C13.8,27.6 18.9,21.9 24.3,17.8 C29.7,13.8 37.1,10.2 42.5,7.7 C47.9,5.2 52.0,3.9 56.7,2.6 C61.4,1.3 65.8,0.2 70.9,0.0 C76.0,-0.2 81.4,0.3 87.1,1.6 C92.8,2.9 99.9,4.7 105.3,7.7 C110.7,10.7 115.8,15.4 119.5,19.8 C123.2,24.2 125.9,29.9 127.6,34.0 C129.3,38.0 129.4,40.7 129.6,44.1 C129.8,47.5 128.8,49.8 128.6,54.2 C128.4,58.6 129.1,65.0 128.6,70.4 C128.1,75.8 127.0,81.9 125.5,86.6 C124.0,91.3 122.2,95.4 119.5,98.8 C116.8,102.2 112.7,105.4 109.3,106.9 C105.9,108.4 101.7,109.2 99.2,107.9 C96.7,106.6 95.6,102.0 94.2,98.8 C92.8,95.6 93.0,91.0 91.1,88.6 C89.2,86.2 86.4,84.6 83.0,84.6 C79.6,84.6 75.3,86.2 70.9,88.6 C66.5,91.0 61.4,96.8 56.7,98.8 C52.0,100.8 46.5,101.8 42.5,100.8 C38.5,99.8 34.8,96.1 32.4,92.7 C30.0,89.3 29.4,83.5 28.4,80.5 C27.4,77.5 28.3,75.7 26.3,74.5 C24.3,73.3 19.9,74.0 16.2,73.5 C12.5,73.0 6.8,73.3 4.1,71.4 C1.4,69.5 0.7,64.8 0.0,62.3 C-0.7,59.8 -0.3,59.3 0.0,56.3Z" fill="none" stroke="#333" stroke-width="0.9"/></g><clipPath id="clipL44"><path d="M0.0,66.5 C0.4,63.2 0.4,58.1 2.2,53.4 C4.0,48.7 6.9,43.3 10.9,38.2 C14.9,33.1 20.8,27.3 26.2,22.9 C31.6,18.5 37.8,14.9 43.6,12.0 C49.4,9.1 55.5,7.5 61.0,5.5 C66.5,3.5 70.1,0.5 76.3,0.0 C82.5,-0.5 91.2,0.9 98.1,2.2 C105.0,3.5 112.6,4.9 117.7,7.6 C122.8,10.3 125.3,14.1 128.6,18.5 C131.9,22.9 134.9,28.7 137.3,33.8 C139.7,38.9 141.7,45.1 142.8,49.1 C143.9,53.1 144.1,54.2 143.9,57.8 C143.7,61.4 142.8,66.2 141.7,70.9 C140.6,75.6 138.8,81.0 137.3,86.1 C135.9,91.2 134.8,97.0 133.0,101.4 C131.2,105.8 129.7,109.8 126.4,112.3 C123.1,114.8 117.0,116.2 113.4,116.6 C109.8,117.0 106.8,116.7 104.6,114.5 C102.4,112.3 101.4,106.9 100.3,103.6 C99.2,100.3 99.5,97.0 98.1,94.8 C96.6,92.6 94.5,90.8 91.6,90.5 C88.7,90.2 84.3,90.9 80.7,92.7 C77.1,94.5 73.4,98.9 69.8,101.4 C66.2,103.9 62.5,106.6 58.9,107.9 C55.3,109.2 51.3,110.1 48.0,109.0 C44.7,107.9 41.2,104.5 39.2,101.4 C37.2,98.3 37.1,93.8 36.0,90.5 C34.9,87.2 35.1,83.4 32.7,81.8 C30.3,80.2 26.2,81.4 21.8,80.7 C17.4,80.0 10.1,78.7 6.5,77.4 C2.9,76.1 1.1,74.8 0.0,73.0 C-1.1,71.2 -0.4,69.8 0.0,66.5Z"/></clipPath><g id="L44"><path d="M0.0,66.5 C0.4,63.2 0.4,58.1 2.2,53.4 C4.0,48.7 6.9,43.3 10.9,38.2 C14.9,33.1 20.8,27.3 26.2,22.9 C31.6,18.5 37.8,14.9 43.6,12.0 C49.4,9.1 55.5,7.5 61.0,5.5 C66.5,3.5 70.1,0.5 76.3,0.0 C82.5,-0.5 91.2,0.9 98.1,2.2 C105.0,3.5 112.6,4.9 117.7,7.6 C122.8,10.3 125.3,14.1 128.6,18.5 C131.9,22.9 134.9,28.7 137.3,33.8 C139.7,38.9 141.7,45.1 142.8,49.1 C143.9,53.1 144.1,54.2 143.9,57.8 C143.7,61.4 142.8,66.2 141.7,70.9 C140.6,75.6 138.8,81.0 137.3,86.1 C135.9,91.2 134.8,97.0 133.0,101.4 C131.2,105.8 129.7,109.8 126.4,112.3 C123.1,114.8 117.0,116.2 113.4,116.6 C109.8,117.0 106.8,116.7 104.6,114.5 C102.4,112.3 101.4,106.9 100.3,103.6 C99.2,100.3 99.5,97.0 98.1,94.8 C96.6,92.6 94.5,90.8 91.6,90.5 C88.7,90.2 84.3,90.9 80.7,92.7 C77.1,94.5 73.4,98.9 69.8,101.4 C66.2,103.9 62.5,106.6 58.9,107.9 C55.3,109.2 51.3,110.1 48.0,109.0 C44.7,107.9 41.2,104.5 39.2,101.4 C37.2,98.3 37.1,93.8 36.0,90.5 C34.9,87.2 35.1,83.4 32.7,81.8 C30.3,80.2 26.2,81.4 21.8,80.7 C17.4,80.0 10.1,78.7 6.5,77.4 C2.9,76.1 1.1,74.8 0.0,73.0 C-1.1,71.2 -0.4,69.8 0.0,66.5Z" fill="none" stroke="#fff" stroke-width="4"/><path d="M0.0,66.5 C0.4,63.2 0.4,58.1 2.2,53.4 C4.0,48.7 6.9,43.3 10.9,38.2 C14.9,33.1 20.8,27.3 26.2,22.9 C31.6,18.5 37.8,14.9 43.6,12.0 C49.4,9.1 55.5,7.5 61.0,5.5 C66.5,3.5 70.1,0.5 76.3,0.0 C82.5,-0.5 91.2,0.9 98.1,2.2 C105.0,3.5 112.6,4.9 117.7,7.6 C122.8,10.3 125.3,14.1 128.6,18.5 C131.9,22.9 134.9,28.7 137.3,33.8 C139.7,38.9 141.7,45.1 142.8,49.1 C143.9,53.1 144.1,54.2 143.9,57.8 C143.7,61.4 142.8,66.2 141.7,70.9 C140.6,75.6 138.8,81.0 137.3,86.1 C135.9,91.2 134.8,97.0 133.0,101.4 C131.2,105.8 129.7,109.8 126.4,112.3 C123.1,114.8 117.0,116.2 113.4,116.6 C109.8,117.0 106.8,116.7 104.6,114.5 C102.4,112.3 101.4,106.9 100.3,103.6 C99.2,100.3 99.5,97.0 98.1,94.8 C96.6,92.6 94.5,90.8 91.6,90.5 C88.7,90.2 84.3,90.9 80.7,92.7 C77.1,94.5 73.4,98.9 69.8,101.4 C66.2,103.9 62.5,106.6 58.9,107.9 C55.3,109.2 51.3,110.1 48.0,109.0 C44.7,107.9 41.2,104.5 39.2,101.4 C37.2,98.3 37.1,93.8 36.0,90.5 C34.9,87.2 35.1,83.4 32.7,81.8 C30.3,80.2 26.2,81.4 21.8,80.7 C17.4,80.0 10.1,78.7 6.5,77.4 C2.9,76.1 1.1,74.8 0.0,73.0 C-1.1,71.2 -0.4,69.8 0.0,66.5Z" fill="url(#shadeSl)" filter="url(#slTex)"/><g clip-path="url(#clipL44)"><path d="M0.0,66.5 C0.4,63.2 0.4,58.1 2.2,53.4 C4.0,48.7 6.9,43.3 10.9,38.2 C14.9,33.1 20.8,27.3 26.2,22.9 C31.6,18.5 37.8,14.9 43.6,12.0 C49.4,9.1 55.5,7.5 61.0,5.5 C66.5,3.5 70.1,0.5 76.3,0.0 C82.5,-0.5 91.2,0.9 98.1,2.2 C105.0,3.5 112.6,4.9 117.7,7.6 C122.8,10.3 125.3,14.1 128.6,18.5 C131.9,22.9 134.9,28.7 137.3,33.8 C139.7,38.9 141.7,45.1 142.8,49.1 C143.9,53.1 144.1,54.2 143.9,57.8 C143.7,61.4 142.8,66.2 141.7,70.9 C140.6,75.6 138.8,81.0 137.3,86.1 C135.9,91.2 134.8,97.0 133.0,101.4 C131.2,105.8 129.7,109.8 126.4,112.3 C123.1,114.8 117.0,116.2 113.4,116.6 C109.8,117.0 106.8,116.7 104.6,114.5 C102.4,112.3 101.4,106.9 100.3,103.6 C99.2,100.3 99.5,97.0 98.1,94.8 C96.6,92.6 94.5,90.8 91.6,90.5 C88.7,90.2 84.3,90.9 80.7,92.7 C77.1,94.5 73.4,98.9 69.8,101.4 C66.2,103.9 62.5,106.6 58.9,107.9 C55.3,109.2 51.3,110.1 48.0,109.0 C44.7,107.9 41.2,104.5 39.2,101.4 C37.2,98.3 37.1,93.8 36.0,90.5 C34.9,87.2 35.1,83.4 32.7,81.8 C30.3,80.2 26.2,81.4 21.8,80.7 C17.4,80.0 10.1,78.7 6.5,77.4 C2.9,76.1 1.1,74.8 0.0,73.0 C-1.1,71.2 -0.4,69.8 0.0,66.5Z" fill="none" stroke="#7a7a7a" stroke-width="7" opacity="0.45" filter="url(#blur2)"/><g filter="url(#wavy)"><path d="M40.0,72.0 C41.3,70.3 45.3,65.0 48.0,62.0 C50.7,59.0 53.0,56.5 56.0,54.0 C59.0,51.5 62.3,48.8 66.0,47.0 C69.7,45.2 74.3,43.8 78.0,43.0 C81.7,42.2 85.0,41.5 88.0,42.0 C91.0,42.5 94.7,45.3 96.0,46.0" fill="none" stroke="#7c7c7c" stroke-width="7.8" stroke-linecap="round" stroke-linejoin="round" opacity="0.6"/><path d="M46.0,84.0 C48.3,83.0 55.0,80.3 60.0,78.0 C65.0,75.7 70.7,72.3 76.0,70.0 C81.3,67.7 87.3,65.8 92.0,64.0 C96.7,62.2 100.0,60.8 104.0,59.0 C108.0,57.2 114.0,54.0 116.0,53.0" fill="none" stroke="#f6f6f6" stroke-width="10.1" stroke-linecap="round" stroke-linejoin="round" opacity="0.95"/><path d="M50.0,50.0 C52.7,48.7 60.3,44.3 66.0,42.0 C71.7,39.7 78.3,38.0 84.0,36.0 C89.7,34.0 95.3,31.8 100.0,30.0 C104.7,28.2 110.0,25.8 112.0,25.0" fill="none" stroke="#eaeaea" stroke-width="7.8" stroke-linecap="round" stroke-linejoin="round" opacity="0.9"/><path d="M58.0,56.0 C59.0,54.3 63.0,47.7 64.0,46.0" fill="none" stroke="#eaeaea" stroke-width="7.8" stroke-linecap="round" stroke-linejoin="round" opacity="0.9"/><path d="M104.0,58.0 C104.7,55.0 107.0,45.0 108.0,40.0 C109.0,35.0 109.7,30.0 110.0,28.0" fill="none" stroke="#e4e4e4" stroke-width="6.2" stroke-linecap="round" stroke-linejoin="round" opacity="0.85"/><path d="M70.0,57.0 C72.0,56.3 78.3,53.3 82.0,53.0 C85.7,52.7 90.3,54.7 92.0,55.0" fill="none" stroke="#f0f0f0" stroke-width="6.2" stroke-linecap="round" stroke-linejoin="round" opacity="0.8"/><path d="M54.0,48.0 C54.3,45.7 55.3,39.0 56.0,34.0 C56.7,29.0 57.7,20.7 58.0,18.0" fill="none" stroke="#d8d8d8" stroke-width="4.7" stroke-linecap="round" stroke-linejoin="round" opacity="0.85"/><path d="M68.0,40.0 C68.7,37.7 70.7,30.7 72.0,26.0 C73.3,21.3 75.3,14.3 76.0,12.0" fill="none" stroke="#d8d8d8" stroke-width="4.7" stroke-linecap="round" stroke-linejoin="round" opacity="0.85"/><path d="M84.0,36.0 C84.7,33.7 86.7,26.7 88.0,22.0 C89.3,17.3 91.3,10.3 92.0,8.0" fill="none" stroke="#d8d8d8" stroke-width="4.7" stroke-linecap="round" stroke-linejoin="round" opacity="0.85"/><path d="M100.0,30.0 C100.7,28.0 102.7,21.7 104.0,18.0 C105.3,14.3 107.3,9.7 108.0,8.0" fill="none" stroke="#d8d8d8" stroke-width="4.7" stroke-linecap="round" stroke-linejoin="round" opacity="0.85"/><path d="M112.0,28.0 C113.3,26.0 118.7,18.0 120.0,16.0" fill="none" stroke="#d8d8d8" stroke-width="4.7" stroke-linecap="round" stroke-linejoin="round" opacity="0.8"/><path d="M118.0,40.0 C120.0,38.3 128.0,31.7 130.0,30.0" fill="none" stroke="#d8d8d8" stroke-width="4.7" stroke-linecap="round" stroke-linejoin="round" opacity="0.7"/><path d="M62.0,40.0 C62.3,37.7 63.2,30.7 64.0,26.0 C64.8,21.3 66.5,14.3 67.0,12.0" fill="none" stroke="#8a8a8a" stroke-width="3.7" stroke-linecap="round" stroke-linejoin="round" opacity="0.55"/><path d="M77.0,37.0 C77.5,34.8 78.8,28.5 80.0,24.0 C81.2,19.5 83.3,12.3 84.0,10.0" fill="none" stroke="#8a8a8a" stroke-width="3.7" stroke-linecap="round" stroke-linejoin="round" opacity="0.55"/><path d="M93.0,33.0 C93.5,30.8 94.8,24.2 96.0,20.0 C97.2,15.8 99.3,10.0 100.0,8.0" fill="none" stroke="#8a8a8a" stroke-width="3.7" stroke-linecap="round" stroke-linejoin="round" opacity="0.55"/><path d="M46.0,94.0 C50.0,93.3 62.3,91.7 70.0,90.0 C77.7,88.3 83.7,86.7 92.0,84.0 C100.3,81.3 115.3,75.7 120.0,74.0" fill="none" stroke="#e6e6e6" stroke-width="6.2" stroke-linecap="round" stroke-linejoin="round" opacity="0.8"/><path d="M56.0,104.0 C60.0,103.5 72.7,102.0 80.0,101.0 C87.3,100.0 96.7,98.5 100.0,98.0" fill="none" stroke="#d8d8d8" stroke-width="4.7" stroke-linecap="round" stroke-linejoin="round" opacity="0.6"/><path d="M50.0,90.0 C55.0,89.3 70.0,88.0 80.0,86.0 C90.0,84.0 105.0,79.3 110.0,78.0" fill="none" stroke="#8a8a8a" stroke-width="3.1" stroke-linecap="round" stroke-linejoin="round" opacity="0.4"/><path d="M124.0,60.0 C126.3,58.7 135.7,53.3 138.0,52.0" fill="none" stroke="#d8d8d8" stroke-width="3.9" stroke-linecap="round" stroke-linejoin="round" opacity="0.5"/><path d="M126.0,76.0 C128.3,75.3 137.7,72.7 140.0,72.0" fill="none" stroke="#d8d8d8" stroke-width="3.9" stroke-linecap="round" stroke-linejoin="round" opacity="0.5"/><path d="M120.0,92.0 C122.3,91.7 131.7,90.3 134.0,90.0" fill="none" stroke="#d8d8d8" stroke-width="3.9" stroke-linecap="round" stroke-linejoin="round" opacity="0.5"/></g></g><path d="M0.0,66.5 C0.4,63.2 0.4,58.1 2.2,53.4 C4.0,48.7 6.9,43.3 10.9,38.2 C14.9,33.1 20.8,27.3 26.2,22.9 C31.6,18.5 37.8,14.9 43.6,12.0 C49.4,9.1 55.5,7.5 61.0,5.5 C66.5,3.5 70.1,0.5 76.3,0.0 C82.5,-0.5 91.2,0.9 98.1,2.2 C105.0,3.5 112.6,4.9 117.7,7.6 C122.8,10.3 125.3,14.1 128.6,18.5 C131.9,22.9 134.9,28.7 137.3,33.8 C139.7,38.9 141.7,45.1 142.8,49.1 C143.9,53.1 144.1,54.2 143.9,57.8 C143.7,61.4 142.8,66.2 141.7,70.9 C140.6,75.6 138.8,81.0 137.3,86.1 C135.9,91.2 134.8,97.0 133.0,101.4 C131.2,105.8 129.7,109.8 126.4,112.3 C123.1,114.8 117.0,116.2 113.4,116.6 C109.8,117.0 106.8,116.7 104.6,114.5 C102.4,112.3 101.4,106.9 100.3,103.6 C99.2,100.3 99.5,97.0 98.1,94.8 C96.6,92.6 94.5,90.8 91.6,90.5 C88.7,90.2 84.3,90.9 80.7,92.7 C77.1,94.5 73.4,98.9 69.8,101.4 C66.2,103.9 62.5,106.6 58.9,107.9 C55.3,109.2 51.3,110.1 48.0,109.0 C44.7,107.9 41.2,104.5 39.2,101.4 C37.2,98.3 37.1,93.8 36.0,90.5 C34.9,87.2 35.1,83.4 32.7,81.8 C30.3,80.2 26.2,81.4 21.8,80.7 C17.4,80.0 10.1,78.7 6.5,77.4 C2.9,76.1 1.1,74.8 0.0,73.0 C-1.1,71.2 -0.4,69.8 0.0,66.5Z" fill="none" stroke="#333" stroke-width="0.9"/></g><clipPath id="clipM9"><path d="M0.0,67.1 C0.0,61.3 1.8,55.5 4.3,49.7 C6.8,43.9 10.5,37.6 15.2,32.3 C19.9,27.0 25.8,22.3 32.7,18.1 C39.6,13.9 49.0,10.0 56.6,7.2 C64.2,4.4 71.9,2.5 78.4,1.3 C85.0,0.1 89.4,-0.4 95.9,0.0 C102.5,0.4 111.2,1.8 117.7,3.9 C124.2,6.0 130.0,9.1 135.1,12.7 C140.2,16.3 144.4,21.4 148.2,25.7 C152.0,30.0 155.8,35.2 158.0,38.8 C160.2,42.4 161.1,43.9 161.2,47.5 C161.3,51.1 159.1,55.9 158.5,60.6 C157.9,65.3 157.5,70.8 157.5,75.9 C157.5,81.0 158.8,86.4 158.5,91.1 C158.2,95.8 157.5,99.5 155.8,104.2 C154.1,108.9 151.6,114.8 148.2,119.5 C144.8,124.2 139.5,129.8 135.1,132.5 C130.7,135.2 125.6,136.5 122.0,135.8 C118.4,135.1 115.8,130.8 113.3,128.2 C110.8,125.6 110.1,122.0 106.8,120.5 C103.5,119.0 97.7,120.8 93.7,119.5 C89.7,118.2 85.7,115.8 82.8,112.9 C79.9,110.0 78.0,105.6 76.2,102.0 C74.4,98.4 73.4,93.3 71.9,91.1 C70.5,88.9 71.1,88.2 67.5,88.9 C63.9,89.6 56.6,94.2 50.1,95.5 C43.6,96.8 34.5,97.0 28.3,96.6 C22.1,96.2 17.0,95.3 13.0,93.3 C9.0,91.3 6.5,89.0 4.3,84.6 C2.1,80.2 0.0,72.9 0.0,67.1Z"/></clipPath><g id="M9"><path d="M0.0,67.1 C0.0,61.3 1.8,55.5 4.3,49.7 C6.8,43.9 10.5,37.6 15.2,32.3 C19.9,27.0 25.8,22.3 32.7,18.1 C39.6,13.9 49.0,10.0 56.6,7.2 C64.2,4.4 71.9,2.5 78.4,1.3 C85.0,0.1 89.4,-0.4 95.9,0.0 C102.5,0.4 111.2,1.8 117.7,3.9 C124.2,6.0 130.0,9.1 135.1,12.7 C140.2,16.3 144.4,21.4 148.2,25.7 C152.0,30.0 155.8,35.2 158.0,38.8 C160.2,42.4 161.1,43.9 161.2,47.5 C161.3,51.1 159.1,55.9 158.5,60.6 C157.9,65.3 157.5,70.8 157.5,75.9 C157.5,81.0 158.8,86.4 158.5,91.1 C158.2,95.8 157.5,99.5 155.8,104.2 C154.1,108.9 151.6,114.8 148.2,119.5 C144.8,124.2 139.5,129.8 135.1,132.5 C130.7,135.2 125.6,136.5 122.0,135.8 C118.4,135.1 115.8,130.8 113.3,128.2 C110.8,125.6 110.1,122.0 106.8,120.5 C103.5,119.0 97.7,120.8 93.7,119.5 C89.7,118.2 85.7,115.8 82.8,112.9 C79.9,110.0 78.0,105.6 76.2,102.0 C74.4,98.4 73.4,93.3 71.9,91.1 C70.5,88.9 71.1,88.2 67.5,88.9 C63.9,89.6 56.6,94.2 50.1,95.5 C43.6,96.8 34.5,97.0 28.3,96.6 C22.1,96.2 17.0,95.3 13.0,93.3 C9.0,91.3 6.5,89.0 4.3,84.6 C2.1,80.2 0.0,72.9 0.0,67.1Z" fill="none" stroke="#fff" stroke-width="4"/><path d="M0.0,67.1 C0.0,61.3 1.8,55.5 4.3,49.7 C6.8,43.9 10.5,37.6 15.2,32.3 C19.9,27.0 25.8,22.3 32.7,18.1 C39.6,13.9 49.0,10.0 56.6,7.2 C64.2,4.4 71.9,2.5 78.4,1.3 C85.0,0.1 89.4,-0.4 95.9,0.0 C102.5,0.4 111.2,1.8 117.7,3.9 C124.2,6.0 130.0,9.1 135.1,12.7 C140.2,16.3 144.4,21.4 148.2,25.7 C152.0,30.0 155.8,35.2 158.0,38.8 C160.2,42.4 161.1,43.9 161.2,47.5 C161.3,51.1 159.1,55.9 158.5,60.6 C157.9,65.3 157.5,70.8 157.5,75.9 C157.5,81.0 158.8,86.4 158.5,91.1 C158.2,95.8 157.5,99.5 155.8,104.2 C154.1,108.9 151.6,114.8 148.2,119.5 C144.8,124.2 139.5,129.8 135.1,132.5 C130.7,135.2 125.6,136.5 122.0,135.8 C118.4,135.1 115.8,130.8 113.3,128.2 C110.8,125.6 110.1,122.0 106.8,120.5 C103.5,119.0 97.7,120.8 93.7,119.5 C89.7,118.2 85.7,115.8 82.8,112.9 C79.9,110.0 78.0,105.6 76.2,102.0 C74.4,98.4 73.4,93.3 71.9,91.1 C70.5,88.9 71.1,88.2 67.5,88.9 C63.9,89.6 56.6,94.2 50.1,95.5 C43.6,96.8 34.5,97.0 28.3,96.6 C22.1,96.2 17.0,95.3 13.0,93.3 C9.0,91.3 6.5,89.0 4.3,84.6 C2.1,80.2 0.0,72.9 0.0,67.1Z" fill="url(#shadeMd)"/><g clip-path="url(#clipM9)"><path d="M50.0,96.0 C47.7,94.0 39.2,88.7 36.0,84.0 C32.8,79.3 31.2,73.3 31.0,68.0 C30.8,62.7 32.2,56.7 35.0,52.0 C37.8,47.3 42.2,43.2 48.0,40.0 C53.8,36.8 62.7,34.2 70.0,33.0 C77.3,31.8 85.3,31.8 92.0,33.0 C98.7,34.2 105.3,36.8 110.0,40.0 C114.7,43.2 118.0,47.7 120.0,52.0 C122.0,56.3 121.7,63.7 122.0,66.0" fill="none" stroke="#cecece" stroke-width="16" opacity="0.75" filter="url(#blur2)"/><path d="M22.0,86.0 C21.8,82.3 20.0,70.7 21.0,64.0 C22.0,57.3 24.2,51.5 28.0,46.0 C31.8,40.5 37.0,34.8 44.0,31.0 C51.0,27.2 61.3,24.5 70.0,23.0 C78.7,21.5 88.0,21.2 96.0,22.0 C104.0,22.8 112.3,25.0 118.0,28.0 C123.7,31.0 128.0,38.0 130.0,40.0" fill="none" stroke="#8a8a8a" stroke-width="2.6" opacity="0.8" filter="url(#blur1)"/><path d="M50.0,9.0 C51.0,11.2 55.0,19.8 56.0,22.0" fill="none" stroke="#8e8e8e" stroke-width="2.4" stroke-linecap="round" opacity="0.6" filter="url(#blur1)"/><path d="M96.0,3.0 C96.3,5.8 97.7,17.2 98.0,20.0" fill="none" stroke="#8e8e8e" stroke-width="2.4" stroke-linecap="round" opacity="0.6" filter="url(#blur1)"/><path d="M122.0,12.0 C121.3,14.7 118.7,25.3 118.0,28.0" fill="none" stroke="#8e8e8e" stroke-width="2.4" stroke-linecap="round" opacity="0.6" filter="url(#blur1)"/><path d="M134.0,36.0 C136.7,35.0 147.3,31.0 150.0,30.0" fill="none" stroke="#8e8e8e" stroke-width="2.4" stroke-linecap="round" opacity="0.6" filter="url(#blur1)"/><path d="M140.0,62.0 C142.7,61.7 153.3,60.3 156.0,60.0" fill="none" stroke="#8e8e8e" stroke-width="2.4" stroke-linecap="round" opacity="0.6" filter="url(#blur1)"/><path d="M10.0,50.0 C12.0,51.0 20.0,55.0 22.0,56.0" fill="none" stroke="#8e8e8e" stroke-width="2.4" stroke-linecap="round" opacity="0.6" filter="url(#blur1)"/><path d="M6.0,72.0 C8.3,72.3 17.7,73.7 20.0,74.0" fill="none" stroke="#8e8e8e" stroke-width="2.4" stroke-linecap="round" opacity="0.6" filter="url(#blur1)"/><path d="M116.0,56.0 C118.3,53.7 125.0,46.3 130.0,42.0 C135.0,37.7 143.3,32.0 146.0,30.0" fill="none" stroke="#808080" stroke-width="2.6" opacity="0.8" filter="url(#blur1)"/><path d="M114.0,72.0 C117.3,71.3 127.0,69.0 134.0,68.0 C141.0,67.0 152.3,66.3 156.0,66.0" fill="none" stroke="#868686" stroke-width="2.2" opacity="0.7" filter="url(#blur1)"/><path d="M46.0,76.0 C45.3,72.3 47.7,67.0 50.0,64.0 C52.3,61.0 55.0,59.3 60.0,58.0 C65.0,56.7 73.7,56.0 80.0,56.0 C86.3,56.0 94.0,56.3 98.0,58.0 C102.0,59.7 104.3,63.3 104.0,66.0 C103.7,68.7 100.3,73.0 96.0,74.0 C91.7,75.0 83.3,71.3 78.0,72.0 C72.7,72.7 68.0,75.7 64.0,78.0 C60.0,80.3 57.0,86.3 54.0,86.0 C51.0,85.7 46.7,79.7 46.0,76.0Z" fill="#d0d0d0" filter="url(#blur1)"/><path d="M44.0,84.0 C43.0,82.0 38.8,76.0 38.0,72.0 C37.2,68.0 37.7,63.5 39.0,60.0 C40.3,56.5 42.3,53.4 46.0,51.0 C49.7,48.6 55.3,46.7 61.0,45.5 C66.7,44.3 74.2,44.1 80.0,44.0 C85.8,43.9 91.7,44.1 96.0,45.0 C100.3,45.9 103.5,47.5 106.0,49.5 C108.5,51.5 110.2,54.4 111.0,57.0 C111.8,59.6 111.0,63.7 111.0,65.0" fill="none" stroke="#fbfbfb" stroke-width="6" stroke-linecap="round" filter="url(#blur05)"/><path d="M46.5,76.0 C46.7,74.3 46.3,68.9 47.5,66.0 C48.7,63.1 50.4,60.5 53.5,58.5 C56.6,56.5 61.2,54.9 66.0,54.0 C70.8,53.1 77.2,52.9 82.0,53.0 C86.8,53.1 91.7,53.3 95.0,54.5 C98.3,55.7 100.8,59.1 102.0,60.0" fill="none" stroke="#686868" stroke-width="4.5" stroke-linecap="round" filter="url(#blur05)"/></g><path d="M102.4,78.0 C105.3,76.5 111.9,75.5 117.7,75.9 C123.5,76.3 131.5,77.7 137.3,80.2 C143.1,82.7 149.2,86.7 152.5,91.1 C155.8,95.5 157.2,101.7 156.9,106.4 C156.6,111.1 154.0,115.2 150.4,119.5 C146.8,123.8 139.8,129.8 135.1,132.5 C130.4,135.2 125.6,136.5 122.0,135.8 C118.4,135.1 115.8,131.6 113.3,128.2 C110.8,124.7 109.0,119.8 106.8,115.1 C104.6,110.4 101.3,104.9 100.2,99.8 C99.1,94.7 99.8,88.2 100.2,84.6 C100.6,81.0 99.5,79.5 102.4,78.0Z" fill="#bdbdbd" stroke="#8c8c8c" stroke-width="1.2"/><clipPath id="cbcM9"><path d="M102.4,78.0 C105.3,76.5 111.9,75.5 117.7,75.9 C123.5,76.3 131.5,77.7 137.3,80.2 C143.1,82.7 149.2,86.7 152.5,91.1 C155.8,95.5 157.2,101.7 156.9,106.4 C156.6,111.1 154.0,115.2 150.4,119.5 C146.8,123.8 139.8,129.8 135.1,132.5 C130.4,135.2 125.6,136.5 122.0,135.8 C118.4,135.1 115.8,131.6 113.3,128.2 C110.8,124.7 109.0,119.8 106.8,115.1 C104.6,110.4 101.3,104.9 100.2,99.8 C99.1,94.7 99.8,88.2 100.2,84.6 C100.6,81.0 99.5,79.5 102.4,78.0Z"/></clipPath><g clip-path="url(#cbcM9)" filter="url(#blur1)"><line x1="120" y1="101" x2="82.4" y2="87.3" stroke="#ececec" stroke-width="2" opacity="0.75"/><line x1="120" y1="101" x2="91.2" y2="73.2" stroke="#ececec" stroke-width="2" opacity="0.75"/><line x1="120" y1="101" x2="105.0" y2="63.9" stroke="#ececec" stroke-width="2" opacity="0.75"/><line x1="120" y1="101" x2="121.4" y2="61.0" stroke="#ececec" stroke-width="2" opacity="0.75"/><line x1="120" y1="101" x2="137.5" y2="65.0" stroke="#ececec" stroke-width="2" opacity="0.75"/><line x1="120" y1="101" x2="150.6" y2="75.3" stroke="#ececec" stroke-width="2" opacity="0.75"/><line x1="120" y1="101" x2="158.5" y2="90.0" stroke="#ececec" stroke-width="2" opacity="0.75"/><line x1="120" y1="101" x2="159.6" y2="106.6" stroke="#ececec" stroke-width="2" opacity="0.75"/><line x1="120" y1="101" x2="153.9" y2="122.2" stroke="#ececec" stroke-width="2" opacity="0.75"/><line x1="120" y1="101" x2="142.4" y2="134.2" stroke="#ececec" stroke-width="2" opacity="0.75"/><line x1="120" y1="101" x2="126.9" y2="140.4" stroke="#ececec" stroke-width="2" opacity="0.75"/><line x1="120" y1="101" x2="110.3" y2="139.8" stroke="#ececec" stroke-width="2" opacity="0.75"/><line x1="120" y1="101" x2="95.4" y2="132.5" stroke="#ececec" stroke-width="2" opacity="0.75"/><line x1="120" y1="101" x2="84.7" y2="119.8" stroke="#ececec" stroke-width="2" opacity="0.75"/><path d="M102.4,78.0 C105.3,76.5 111.9,75.5 117.7,75.9 C123.5,76.3 131.5,77.7 137.3,80.2 C143.1,82.7 149.2,86.7 152.5,91.1 C155.8,95.5 157.2,101.7 156.9,106.4 C156.6,111.1 154.0,115.2 150.4,119.5 C146.8,123.8 139.8,129.8 135.1,132.5 C130.4,135.2 125.6,136.5 122.0,135.8 C118.4,135.1 115.8,131.6 113.3,128.2 C110.8,124.7 109.0,119.8 106.8,115.1 C104.6,110.4 101.3,104.9 100.2,99.8 C99.1,94.7 99.8,88.2 100.2,84.6 C100.6,81.0 99.5,79.5 102.4,78.0Z" fill="none" stroke="#888" stroke-width="3" filter="url(#blur1)"/></g><path d="M63.0,62.0 C66.3,59.3 74.3,58.3 80.0,58.0 C85.7,57.7 92.8,58.3 97.0,60.0 C101.2,61.7 103.7,64.7 105.0,68.0 C106.3,71.3 105.5,76.0 105.0,80.0 C104.5,84.0 102.0,88.0 102.0,92.0 C102.0,96.0 103.5,99.7 105.0,104.0 C106.5,108.3 110.2,113.3 111.0,118.0 C111.8,122.7 112.5,130.3 110.0,132.0 C107.5,133.7 100.3,130.3 96.0,128.0 C91.7,125.7 87.3,121.7 84.0,118.0 C80.7,114.3 78.2,109.7 76.0,106.0 C73.8,102.3 73.2,99.0 71.0,96.0 C68.8,93.0 64.8,91.7 63.0,88.0 C61.2,84.3 60.0,78.3 60.0,74.0 C60.0,69.7 59.7,64.7 63.0,62.0Z" fill="#fbfbfb" filter="url(#blur1)"/><path d="M13.0,93.3 C11.6,91.8 6.5,89.0 4.3,84.6 C2.1,80.2 0.0,72.9 0.0,67.1 C0.0,61.3 1.8,55.5 4.3,49.7 C6.8,43.9 10.5,37.6 15.2,32.3 C19.9,27.0 25.8,22.3 32.7,18.1 C39.6,13.9 49.0,10.0 56.6,7.2 C64.2,4.4 71.9,2.5 78.4,1.3 C85.0,0.1 89.4,-0.4 95.9,0.0 C102.5,0.4 111.2,1.8 117.7,3.9 C124.2,6.0 130.0,9.1 135.1,12.7 C140.2,16.3 144.4,21.4 148.2,25.7 C152.0,30.0 155.8,35.2 158.0,38.8 C160.2,42.4 161.1,43.9 161.2,47.5 C161.3,51.1 159.1,55.9 158.5,60.6 C157.9,65.3 157.5,70.8 157.5,75.9 C157.5,81.0 158.8,86.4 158.5,91.1 C158.2,95.8 157.5,99.5 155.8,104.2 C154.1,108.9 151.6,114.8 148.2,119.5 C144.8,124.2 139.5,129.8 135.1,132.5 C130.7,135.2 125.6,136.5 122.0,135.8 C118.4,135.1 114.8,129.5 113.3,128.2" fill="none" stroke="#333" stroke-width="0.9"/></g><clipPath id="clipM4"><path d="M0.0,71.4 C0.0,65.2 1.0,56.9 3.9,50.3 C6.8,43.7 11.9,37.4 17.2,31.7 C22.5,26.0 28.7,20.3 35.7,15.9 C42.8,11.5 51.6,7.9 59.5,5.3 C67.4,2.6 75.3,0.7 83.3,0.0 C91.2,-0.7 99.7,-0.5 107.2,1.3 C114.7,3.1 122.1,6.8 128.3,10.6 C134.5,14.3 140.7,20.3 144.2,23.8 C147.7,27.3 147.3,29.5 149.5,31.7 C151.7,33.9 155.1,33.9 157.5,37.0 C159.9,40.1 162.3,45.0 164.1,50.3 C165.8,55.6 167.6,62.6 168.0,68.8 C168.4,75.0 168.0,81.1 166.7,87.3 C165.4,93.5 163.0,100.6 160.1,105.9 C157.2,111.2 153.0,116.0 149.5,119.1 C146.0,122.2 141.6,122.2 138.9,124.4 C136.2,126.6 136.7,129.7 133.6,132.3 C130.5,135.0 123.5,138.1 120.4,140.3 C117.3,142.5 116.8,147.3 115.1,145.6 C113.4,143.9 112.5,135.1 110.0,130.0 C107.5,124.9 104.2,119.2 100.0,115.0 C95.8,110.8 90.0,109.6 85.0,105.0 C80.0,100.4 77.0,88.9 70.1,87.3 C63.2,85.7 52.4,94.0 43.6,95.3 C34.8,96.6 23.8,96.6 17.2,95.3 C10.6,94.0 6.8,91.3 3.9,87.3 C1.0,83.3 0.0,77.6 0.0,71.4Z"/></clipPath><g id="M4"><path d="M0.0,71.4 C0.0,65.2 1.0,56.9 3.9,50.3 C6.8,43.7 11.9,37.4 17.2,31.7 C22.5,26.0 28.7,20.3 35.7,15.9 C42.8,11.5 51.6,7.9 59.5,5.3 C67.4,2.6 75.3,0.7 83.3,0.0 C91.2,-0.7 99.7,-0.5 107.2,1.3 C114.7,3.1 122.1,6.8 128.3,10.6 C134.5,14.3 140.7,20.3 144.2,23.8 C147.7,27.3 147.3,29.5 149.5,31.7 C151.7,33.9 155.1,33.9 157.5,37.0 C159.9,40.1 162.3,45.0 164.1,50.3 C165.8,55.6 167.6,62.6 168.0,68.8 C168.4,75.0 168.0,81.1 166.7,87.3 C165.4,93.5 163.0,100.6 160.1,105.9 C157.2,111.2 153.0,116.0 149.5,119.1 C146.0,122.2 141.6,122.2 138.9,124.4 C136.2,126.6 136.7,129.7 133.6,132.3 C130.5,135.0 123.5,138.1 120.4,140.3 C117.3,142.5 116.8,147.3 115.1,145.6 C113.4,143.9 112.5,135.1 110.0,130.0 C107.5,124.9 104.2,119.2 100.0,115.0 C95.8,110.8 90.0,109.6 85.0,105.0 C80.0,100.4 77.0,88.9 70.1,87.3 C63.2,85.7 52.4,94.0 43.6,95.3 C34.8,96.6 23.8,96.6 17.2,95.3 C10.6,94.0 6.8,91.3 3.9,87.3 C1.0,83.3 0.0,77.6 0.0,71.4Z" fill="none" stroke="#fff" stroke-width="4"/><path d="M0.0,71.4 C0.0,65.2 1.0,56.9 3.9,50.3 C6.8,43.7 11.9,37.4 17.2,31.7 C22.5,26.0 28.7,20.3 35.7,15.9 C42.8,11.5 51.6,7.9 59.5,5.3 C67.4,2.6 75.3,0.7 83.3,0.0 C91.2,-0.7 99.7,-0.5 107.2,1.3 C114.7,3.1 122.1,6.8 128.3,10.6 C134.5,14.3 140.7,20.3 144.2,23.8 C147.7,27.3 147.3,29.5 149.5,31.7 C151.7,33.9 155.1,33.9 157.5,37.0 C159.9,40.1 162.3,45.0 164.1,50.3 C165.8,55.6 167.6,62.6 168.0,68.8 C168.4,75.0 168.0,81.1 166.7,87.3 C165.4,93.5 163.0,100.6 160.1,105.9 C157.2,111.2 153.0,116.0 149.5,119.1 C146.0,122.2 141.6,122.2 138.9,124.4 C136.2,126.6 136.7,129.7 133.6,132.3 C130.5,135.0 123.5,138.1 120.4,140.3 C117.3,142.5 116.8,147.3 115.1,145.6 C113.4,143.9 112.5,135.1 110.0,130.0 C107.5,124.9 104.2,119.2 100.0,115.0 C95.8,110.8 90.0,109.6 85.0,105.0 C80.0,100.4 77.0,88.9 70.1,87.3 C63.2,85.7 52.4,94.0 43.6,95.3 C34.8,96.6 23.8,96.6 17.2,95.3 C10.6,94.0 6.8,91.3 3.9,87.3 C1.0,83.3 0.0,77.6 0.0,71.4Z" fill="url(#shadeMd)"/><g clip-path="url(#clipM4)"><path d="M46.0,90.0 C43.8,87.7 35.7,81.0 33.0,76.0 C30.3,71.0 29.7,65.0 30.0,60.0 C30.3,55.0 31.8,50.3 35.0,46.0 C38.2,41.7 42.7,37.2 49.0,34.0 C55.3,30.8 65.3,28.2 73.0,27.0 C80.7,25.8 88.7,25.7 95.0,27.0 C101.3,28.3 107.2,31.7 111.0,35.0 C114.8,38.3 116.8,42.7 118.0,47.0 C119.2,51.3 118.0,58.7 118.0,61.0" fill="none" stroke="#cecece" stroke-width="16" opacity="0.75" filter="url(#blur2)"/><path d="M24.0,86.0 C23.8,82.3 22.0,70.7 23.0,64.0 C24.0,57.3 25.8,51.7 30.0,46.0 C34.2,40.3 40.3,33.8 48.0,30.0 C55.7,26.2 67.3,24.5 76.0,23.0 C84.7,21.5 92.0,20.2 100.0,21.0 C108.0,21.8 117.7,24.5 124.0,28.0 C130.3,31.5 135.7,39.7 138.0,42.0" fill="none" stroke="#8a8a8a" stroke-width="2.6" opacity="0.8" filter="url(#blur1)"/><path d="M56.0,7.0 C56.7,9.2 59.3,17.8 60.0,20.0" fill="none" stroke="#8e8e8e" stroke-width="2.4" stroke-linecap="round" opacity="0.6" filter="url(#blur1)"/><path d="M100.0,2.0 C100.3,4.7 101.7,15.3 102.0,18.0" fill="none" stroke="#8e8e8e" stroke-width="2.4" stroke-linecap="round" opacity="0.6" filter="url(#blur1)"/><path d="M130.0,12.0 C129.0,14.7 125.0,25.3 124.0,28.0" fill="none" stroke="#8e8e8e" stroke-width="2.4" stroke-linecap="round" opacity="0.6" filter="url(#blur1)"/><path d="M146.0,30.0 C148.3,31.0 157.7,35.0 160.0,36.0" fill="none" stroke="#8e8e8e" stroke-width="2.4" stroke-linecap="round" opacity="0.6" filter="url(#blur1)"/><path d="M150.0,66.0 C152.7,65.7 163.3,64.3 166.0,64.0" fill="none" stroke="#8e8e8e" stroke-width="2.4" stroke-linecap="round" opacity="0.6" filter="url(#blur1)"/><path d="M10.0,52.0 C12.0,53.0 20.0,57.0 22.0,58.0" fill="none" stroke="#8e8e8e" stroke-width="2.4" stroke-linecap="round" opacity="0.6" filter="url(#blur1)"/><path d="M6.0,74.0 C8.3,74.3 17.7,75.7 20.0,76.0" fill="none" stroke="#8e8e8e" stroke-width="2.4" stroke-linecap="round" opacity="0.6" filter="url(#blur1)"/><path d="M122.0,60.0 C124.7,57.3 132.7,49.0 138.0,44.0 C143.3,39.0 151.3,32.3 154.0,30.0" fill="none" stroke="#808080" stroke-width="2.6" opacity="0.8" filter="url(#blur1)"/><path d="M120.0,74.0 C123.3,73.7 133.3,72.7 140.0,72.0 C146.7,71.3 156.7,70.3 160.0,70.0" fill="none" stroke="#868686" stroke-width="2.2" opacity="0.7" filter="url(#blur1)"/><path d="M46.0,56.0 C46.7,52.3 49.5,51.0 53.0,50.0 C56.5,49.0 64.3,48.0 67.0,50.0 C69.7,52.0 69.7,58.3 69.0,62.0 C68.3,65.7 66.3,70.3 63.0,72.0 C59.7,73.7 51.8,74.7 49.0,72.0 C46.2,69.3 45.3,59.7 46.0,56.0Z" fill="#6a6a6a" filter="url(#blur1)"/><path d="M66.0,50.0 C69.0,46.7 77.0,47.3 82.0,48.0 C87.0,48.7 93.5,50.7 96.0,54.0 C98.5,57.3 98.0,64.3 97.0,68.0 C96.0,71.7 93.8,74.3 90.0,76.0 C86.2,77.7 78.3,79.3 74.0,78.0 C69.7,76.7 65.3,72.7 64.0,68.0 C62.7,63.3 63.0,53.3 66.0,50.0Z" fill="#d0d0d0" filter="url(#blur1)"/><path d="M41.0,76.0 C40.5,74.3 38.0,69.7 38.0,66.0 C38.0,62.3 39.3,57.5 41.0,54.0 C42.7,50.5 44.5,47.3 48.0,45.0 C51.5,42.7 55.8,41.0 62.0,40.0 C68.2,39.0 78.7,38.3 85.0,39.0 C91.3,39.7 96.5,41.8 100.0,44.0 C103.5,46.2 105.0,49.3 106.0,52.0 C107.0,54.7 106.0,58.7 106.0,60.0" fill="none" stroke="#fbfbfb" stroke-width="6" stroke-linecap="round" filter="url(#blur05)"/><path d="M47.0,68.0 C47.0,66.7 46.2,62.7 47.0,60.0 C47.8,57.3 49.2,54.1 52.0,52.0 C54.8,49.9 62.0,48.2 64.0,47.5" fill="none" stroke="#686868" stroke-width="4.5" stroke-linecap="round" filter="url(#blur05)"/></g><path d="M106.0,76.0 C109.0,71.3 118.0,71.3 124.0,72.0 C130.0,72.7 136.7,76.0 142.0,80.0 C147.3,84.0 153.7,91.0 156.0,96.0 C158.3,101.0 157.7,106.3 156.0,110.0 C154.3,113.7 149.7,115.3 146.0,118.0 C142.3,120.7 137.7,123.3 134.0,126.0 C130.3,128.7 127.0,132.7 124.0,134.0 C121.0,135.3 118.3,136.7 116.0,134.0 C113.7,131.3 111.7,123.7 110.0,118.0 C108.3,112.3 106.7,107.0 106.0,100.0 C105.3,93.0 103.0,80.7 106.0,76.0Z" fill="#bdbdbd" stroke="#8c8c8c" stroke-width="1.2"/><clipPath id="cbcM4"><path d="M106.0,76.0 C109.0,71.3 118.0,71.3 124.0,72.0 C130.0,72.7 136.7,76.0 142.0,80.0 C147.3,84.0 153.7,91.0 156.0,96.0 C158.3,101.0 157.7,106.3 156.0,110.0 C154.3,113.7 149.7,115.3 146.0,118.0 C142.3,120.7 137.7,123.3 134.0,126.0 C130.3,128.7 127.0,132.7 124.0,134.0 C121.0,135.3 118.3,136.7 116.0,134.0 C113.7,131.3 111.7,123.7 110.0,118.0 C108.3,112.3 106.7,107.0 106.0,100.0 C105.3,93.0 103.0,80.7 106.0,76.0Z"/></clipPath><g clip-path="url(#cbcM4)" filter="url(#blur1)"><line x1="126" y1="101" x2="88.4" y2="87.3" stroke="#ececec" stroke-width="2" opacity="0.75"/><line x1="126" y1="101" x2="97.2" y2="73.2" stroke="#ececec" stroke-width="2" opacity="0.75"/><line x1="126" y1="101" x2="111.0" y2="63.9" stroke="#ececec" stroke-width="2" opacity="0.75"/><line x1="126" y1="101" x2="127.4" y2="61.0" stroke="#ececec" stroke-width="2" opacity="0.75"/><line x1="126" y1="101" x2="143.5" y2="65.0" stroke="#ececec" stroke-width="2" opacity="0.75"/><line x1="126" y1="101" x2="156.6" y2="75.3" stroke="#ececec" stroke-width="2" opacity="0.75"/><line x1="126" y1="101" x2="164.5" y2="90.0" stroke="#ececec" stroke-width="2" opacity="0.75"/><line x1="126" y1="101" x2="165.6" y2="106.6" stroke="#ececec" stroke-width="2" opacity="0.75"/><line x1="126" y1="101" x2="159.9" y2="122.2" stroke="#ececec" stroke-width="2" opacity="0.75"/><line x1="126" y1="101" x2="148.4" y2="134.2" stroke="#ececec" stroke-width="2" opacity="0.75"/><line x1="126" y1="101" x2="132.9" y2="140.4" stroke="#ececec" stroke-width="2" opacity="0.75"/><line x1="126" y1="101" x2="116.3" y2="139.8" stroke="#ececec" stroke-width="2" opacity="0.75"/><line x1="126" y1="101" x2="101.4" y2="132.5" stroke="#ececec" stroke-width="2" opacity="0.75"/><line x1="126" y1="101" x2="90.7" y2="119.8" stroke="#ececec" stroke-width="2" opacity="0.75"/><path d="M106.0,76.0 C109.0,71.3 118.0,71.3 124.0,72.0 C130.0,72.7 136.7,76.0 142.0,80.0 C147.3,84.0 153.7,91.0 156.0,96.0 C158.3,101.0 157.7,106.3 156.0,110.0 C154.3,113.7 149.7,115.3 146.0,118.0 C142.3,120.7 137.7,123.3 134.0,126.0 C130.3,128.7 127.0,132.7 124.0,134.0 C121.0,135.3 118.3,136.7 116.0,134.0 C113.7,131.3 111.7,123.7 110.0,118.0 C108.3,112.3 106.7,107.0 106.0,100.0 C105.3,93.0 103.0,80.7 106.0,76.0Z" fill="none" stroke="#888" stroke-width="3" filter="url(#blur1)"/></g><path d="M66.0,76.0 C68.0,72.7 71.7,70.7 76.0,70.0 C80.3,69.3 88.0,70.3 92.0,72.0 C96.0,73.7 98.0,76.0 100.0,80.0 C102.0,84.0 102.3,90.0 104.0,96.0 C105.7,102.0 108.3,108.7 110.0,116.0 C111.7,123.3 113.0,134.3 114.0,140.0 C115.0,145.7 117.7,150.7 116.0,150.0 C114.3,149.3 107.7,141.3 104.0,136.0 C100.3,130.7 97.3,123.3 94.0,118.0 C90.7,112.7 87.3,107.7 84.0,104.0 C80.7,100.3 77.3,98.3 74.0,96.0 C70.7,93.7 65.3,93.3 64.0,90.0 C62.7,86.7 64.0,79.3 66.0,76.0Z" fill="#fbfbfb" filter="url(#blur1)"/><path d="M3.9,87.3 C3.2,84.7 0.0,77.6 0.0,71.4 C0.0,65.2 1.0,56.9 3.9,50.3 C6.8,43.7 11.9,37.4 17.2,31.7 C22.5,26.0 28.7,20.3 35.7,15.9 C42.8,11.5 51.6,7.9 59.5,5.3 C67.4,2.6 75.3,0.7 83.3,0.0 C91.2,-0.7 99.7,-0.5 107.2,1.3 C114.7,3.1 122.1,6.8 128.3,10.6 C134.5,14.3 140.7,20.3 144.2,23.8 C147.7,27.3 147.3,29.5 149.5,31.7 C151.7,33.9 155.1,33.9 157.5,37.0 C159.9,40.1 162.3,45.0 164.1,50.3 C165.8,55.6 167.6,62.6 168.0,68.8 C168.4,75.0 168.0,81.1 166.7,87.3 C165.4,93.5 163.0,100.6 160.1,105.9 C157.2,111.2 153.0,116.0 149.5,119.1 C146.0,122.2 141.6,122.2 138.9,124.4 C136.2,126.6 136.7,129.7 133.6,132.3 C130.5,135.0 123.5,138.1 120.4,140.3 C117.3,142.5 116.0,144.7 115.1,145.6" fill="none" stroke="#333" stroke-width="0.9"/></g>
</defs>
<text class="lb" x="1" y="19.6">A</text>
<text class="lb" x="376" y="19.8">B</text>
<text class="lb" x="2" y="283.5">C</text>
<text class="lb" x="2" y="488.8">D</text>
<text class="t" x="184.6" y="38.4" text-anchor="middle">Word list encoding</text>
<g stroke="#111" stroke-width="2" fill="#a8a8a8">
<polygon points="319,56 319,151 233,131 233,76"/>
<polygon points="232.5,56 232.5,151 147,131 147,76"/>
<polygon points="146,54.5 146,150 50,127.5 50,77"/>
</g>
<text x="97" y="107" text-anchor="middle" style="font-size:14.6px" fill="#111">Word 1</text>
<text x="184.5" y="112" text-anchor="middle" style="font-size:23px;font-weight:bold" fill="#111">+</text>
<text x="272" y="107" text-anchor="middle" style="font-size:14.6px" fill="#111">Word 2</text>
<text class="t" x="90.3" y="175.6" text-anchor="middle">2</text>
<text class="t" x="191.5" y="175.6" text-anchor="middle">2–5</text>
<text class="t" x="270.8" y="175.6" text-anchor="middle">2</text>
<line x1="123" y1="200.5" x2="158" y2="200.5" stroke="#111" stroke-width="2.4"/>
<polygon points="152,190.5 176,200.4 152,210.4 156.7,200.5" fill="#111"/>
<text class="t" x="183" y="207">Time (s)</text>
<text class="t" x="322.5" y="228.5"><tspan font-style="italic">t</tspan> value</text>
<text class="t" x="283" y="258.5" text-anchor="middle">0</text>
<text class="t" x="420.5" y="258.5" text-anchor="middle">6</text>
<rect x="298.2" y="240.8" width="110.3" height="24" fill="url(#cbar)"/>
<text class="t" x="697" y="14.2" text-anchor="middle">Memory athletes &lt; Matched controls</text>
<text class="t" x="697" y="37.5" text-anchor="middle">Encoding &gt; Baseline</text>
<text class="t" x="696.7" y="269" text-anchor="middle">Memory training group &lt; Active controls</text>
<text class="t" x="696.7" y="291.7" text-anchor="middle">Encoding &gt; Baseline</text>
<text class="t" x="696.7" y="470" text-anchor="middle">Memory training group &lt; Passive controls</text>
<text class="t" x="696.7" y="491.7" text-anchor="middle">Encoding &gt; Baseline</text>
<text class="t" x="409.5" y="192.4">LH</text>
<text class="t" x="805" y="221.3"><tspan font-style="italic">x</tspan> = −54</text>
<text class="t" x="922.5" y="221.3"><tspan font-style="italic">x</tspan> = −49</text>
<text class="t" x="1052" y="221.3"><tspan font-style="italic">x</tspan> = −44</text>
<text class="t" x="351" y="641.5"><tspan font-style="italic">x</tspan> = −54</text>
<text class="t" x="468.5" y="641.5"><tspan font-style="italic">x</tspan> = −49</text>
<text class="t" x="598.5" y="641.5"><tspan font-style="italic">x</tspan> = −44</text>
<text class="t" x="750.5" y="641.5"><tspan font-style="italic">x</tspan> = −9</text>
<text class="t" x="904.8" y="641.5"><tspan font-style="italic">x</tspan> = −7</text>
<text class="t" x="1056.5" y="641.5"><tspan font-style="italic">x</tspan> = −4</text>
<use href="#brain3d" transform="translate(406,52.7) scale(1,1)"/><use href="#brainInf" transform="translate(556.9,52.7) scale(1,1)"/><use href="#brain3d" transform="translate(2,301.5) scale(1.035,1.035)"/><use href="#brainInf" transform="translate(152.6,302.5) scale(1.035,1.035)"/><use href="#brain3d" transform="translate(4.7,492.9) scale(1,1)"/><use href="#brainInf" transform="translate(157.3,492) scale(1,1)"/><use href="#L54" transform="translate(772.2,78) scale(0.982,0.968)"/><use href="#L49" transform="translate(884.6,73.5) scale(0.97,0.985)"/><use href="#L44" transform="translate(1010.9,69.8) scale(1,1)"/><use href="#L54" transform="translate(347.8,327.7) scale(1,1)"/><use href="#L49" transform="translate(460.1,324.6) scale(1,1)"/><use href="#L44" transform="translate(587.9,320.8) scale(1,1)"/><use href="#L54" transform="translate(351.2,516.6) scale(0.993,0.966)"/><use href="#L49" transform="translate(462.1,510.9) scale(1,1.018)"/><use href="#L44" transform="translate(591.4,508.5) scale(1,0.995)"/><use href="#M9" transform="translate(723,310.5) scale(0.986,0.991)"/><use href="#M9" transform="translate(879.3,310.5) scale(0.986,0.991)"/><use href="#M4" transform="translate(1029.3,305.9) scale(1,1)"/><use href="#M9" transform="translate(724.4,497.6) scale(1,1)"/><use href="#M9" transform="translate(880.7,497.6) scale(1,1)"/><use href="#M4" transform="translate(1030.7,493) scale(1,1)"/><g filter="url(#wob)"><path d="M455.0,108.0 L457.0,116.0 L460.0,121.0" fill="none" stroke="#e98a16" stroke-width="7" stroke-linecap="round" stroke-linejoin="round" opacity="1" filter="url(#bl)"/><path d="M455.0,109.0 L457.0,115.0" fill="none" stroke="#f0a21c" stroke-width="3.5" stroke-linecap="round" stroke-linejoin="round" opacity="1" filter="url(#bl)"/><path d="M455.5,110.0 L456.5,113.0" fill="none" stroke="#f8d424" stroke-width="1.6" stroke-linecap="round" stroke-linejoin="round" opacity="1" filter="url(#bl)"/><path d="M460.0,123.0 L460.0,130.0" fill="none" stroke="#e98a16" stroke-width="3.5" stroke-linecap="round" stroke-linejoin="round" opacity="1" filter="url(#bl)"/><path d="M443.0,143.5 L452.0,143.0" fill="none" stroke="#f0a21c" stroke-width="5.5" stroke-linecap="round" stroke-linejoin="round" opacity="1" filter="url(#bl)"/><path d="M444.5,143.5 L450.5,143.0" fill="none" stroke="#f8d424" stroke-width="3.2" stroke-linecap="round" stroke-linejoin="round" opacity="1" filter="url(#bl)"/><path d="M446.0,143.4 L449.0,143.2" fill="none" stroke="#fbe860" stroke-width="1.5" stroke-linecap="round" stroke-linejoin="round" opacity="1" filter="url(#bl)"/><path d="M608.0,108.0 L611.0,116.0 L614.0,121.0" fill="none" stroke="#f0a21c" stroke-width="8" stroke-linecap="round" stroke-linejoin="round" opacity="1" filter="url(#bl)"/><path d="M609.0,109.0 L612.0,117.0" fill="none" stroke="#f8d424" stroke-width="4.5" stroke-linecap="round" stroke-linejoin="round" opacity="1" filter="url(#bl)"/><path d="M610.0,111.0 L611.0,115.0" fill="none" stroke="#fbe860" stroke-width="2" stroke-linecap="round" stroke-linejoin="round" opacity="1" filter="url(#bl)"/><path d="M614.0,124.0 L616.0,132.0" fill="none" stroke="#e98a16" stroke-width="5" stroke-linecap="round" stroke-linejoin="round" opacity="1" filter="url(#bl)"/><path d="M611.0,133.0 L613.0,136.0" fill="none" stroke="#e98a16" stroke-width="3" stroke-linecap="round" stroke-linejoin="round" opacity="1" filter="url(#bl)"/><path d="M595.0,140.5 L604.0,140.5" fill="none" stroke="#f0a21c" stroke-width="6.5" stroke-linecap="round" stroke-linejoin="round" opacity="1" filter="url(#bl)"/><path d="M597.0,140.5 L602.0,140.5" fill="none" stroke="#f8d424" stroke-width="3.5" stroke-linecap="round" stroke-linejoin="round" opacity="1" filter="url(#bl)"/><path d="M76.0,328.0 L70.0,334.0 L64.0,341.0" fill="none" stroke="#e98a16" stroke-width="7" stroke-linecap="round" stroke-linejoin="round" opacity="1" filter="url(#bl)"/><path d="M74.0,330.0 L68.0,336.0" fill="none" stroke="#f0a21c" stroke-width="3" stroke-linecap="round" stroke-linejoin="round" opacity="1" filter="url(#bl)"/><path d="M80.0,333.0 L87.0,335.0" fill="none" stroke="#e98a16" stroke-width="4" stroke-linecap="round" stroke-linejoin="round" opacity="0.6" filter="url(#bl)"/><path d="M56.0,371.0 L58.0,380.0 L59.0,388.0" fill="none" stroke="#e98a16" stroke-width="6" stroke-linecap="round" stroke-linejoin="round" opacity="1" filter="url(#bl)"/><path d="M57.0,377.0 L59.0,386.0" fill="none" stroke="#f0a21c" stroke-width="3" stroke-linecap="round" stroke-linejoin="round" opacity="1" filter="url(#bl)"/><path d="M63.0,311.0 L70.0,310.0" fill="none" stroke="#e98a16" stroke-width="2.5" stroke-linecap="round" stroke-linejoin="round" opacity="0.8" filter="url(#bl)"/><path d="M220.0,333.0 L229.0,328.0 L238.0,334.0" fill="none" stroke="#e98a16" stroke-width="9" stroke-linecap="round" stroke-linejoin="round" opacity="1" filter="url(#bl)"/><path d="M236.0,334.0 L241.0,335.0" fill="none" stroke="#f8d424" stroke-width="5" stroke-linecap="round" stroke-linejoin="round" opacity="1" filter="url(#bl)"/><path d="M237.0,334.0 L240.0,335.0" fill="none" stroke="#fbe860" stroke-width="2" stroke-linecap="round" stroke-linejoin="round" opacity="1" filter="url(#bl)"/><path d="M211.0,372.0 L216.0,365.0 L222.0,362.0" fill="none" stroke="#e98a16" stroke-width="9" stroke-linecap="round" stroke-linejoin="round" opacity="1" filter="url(#bl)"/><path d="M209.0,373.0 L214.0,369.0" fill="none" stroke="#f8d424" stroke-width="5" stroke-linecap="round" stroke-linejoin="round" opacity="1" filter="url(#bl)"/><path d="M210.0,372.0 L212.0,370.0" fill="none" stroke="#fbe860" stroke-width="2" stroke-linecap="round" stroke-linejoin="round" opacity="1" filter="url(#bl)"/><path d="M212.0,382.0 L214.0,386.0" fill="none" stroke="#e98a16" stroke-width="3" stroke-linecap="round" stroke-linejoin="round" opacity="1" filter="url(#bl)"/><path d="M79.0,509.0 L73.0,521.0 L64.0,531.0 L58.0,540.0" fill="none" stroke="#e98a16" stroke-width="9" stroke-linecap="round" stroke-linejoin="round" opacity="1" filter="url(#bl)"/><path d="M78.0,512.0 L72.0,522.0" fill="none" stroke="#f8d424" stroke-width="4" stroke-linecap="round" stroke-linejoin="round" opacity="1" filter="url(#bl)"/><path d="M62.0,531.0 L59.0,536.0" fill="none" stroke="#f0a21c" stroke-width="3" stroke-linecap="round" stroke-linejoin="round" opacity="1" filter="url(#bl)"/><path d="M63.0,545.0 L65.0,562.0" fill="none" stroke="#e98a16" stroke-width="3.2" stroke-linecap="round" stroke-linejoin="round" opacity="1" filter="url(#bl)"/><path d="M48.0,585.0 L56.0,577.0 L59.0,563.0" fill="none" stroke="#e98a16" stroke-width="7" stroke-linecap="round" stroke-linejoin="round" opacity="1" filter="url(#bl)"/><path d="M57.0,576.0 L60.0,565.0 L63.0,572.0 L65.0,582.0" fill="none" stroke="#f0a21c" stroke-width="6" stroke-linecap="round" stroke-linejoin="round" opacity="1" filter="url(#bl)"/><path d="M58.0,574.0 L61.0,567.0" fill="none" stroke="#f8d424" stroke-width="3" stroke-linecap="round" stroke-linejoin="round" opacity="1" filter="url(#bl)"/><path d="M144.0,553.0 L136.0,561.0 L128.0,568.0" fill="none" stroke="#e98a16" stroke-width="7" stroke-linecap="round" stroke-linejoin="round" opacity="1" filter="url(#bl)"/><path d="M142.0,555.0 L134.0,562.0" fill="none" stroke="#f8d424" stroke-width="3.5" stroke-linecap="round" stroke-linejoin="round" opacity="1" filter="url(#bl)"/><path d="M231.5,504.0 L232.0,514.0" fill="none" stroke="#e98a16" stroke-width="4" stroke-linecap="round" stroke-linejoin="round" opacity="1" filter="url(#bl)"/><path d="M232.0,506.0 L232.0,512.0" fill="none" stroke="#f8d424" stroke-width="1.8" stroke-linecap="round" stroke-linejoin="round" opacity="1" filter="url(#bl)"/><path d="M212.0,522.0 L220.0,526.0 L228.0,524.0 L236.0,527.0" fill="none" stroke="#e98a16" stroke-width="10" stroke-linecap="round" stroke-linejoin="round" opacity="1" filter="url(#bl)"/><path d="M214.0,526.0 L222.0,528.0" fill="none" stroke="#f8d424" stroke-width="5" stroke-linecap="round" stroke-linejoin="round" opacity="1" filter="url(#bl)"/><path d="M238.0,522.0 L239.0,530.0" fill="none" stroke="#e98a16" stroke-width="5" stroke-linecap="round" stroke-linejoin="round" opacity="1" filter="url(#bl)"/><path d="M231.0,534.0 L233.0,541.0" fill="none" stroke="#e98a16" stroke-width="4.5" stroke-linecap="round" stroke-linejoin="round" opacity="1" filter="url(#bl)"/><path d="M227.0,546.0 L220.0,545.0 L213.0,544.0 L211.0,551.0" fill="none" stroke="#e98a16" stroke-width="6" stroke-linecap="round" stroke-linejoin="round" opacity="1" filter="url(#bl)"/><path d="M206.0,557.0 L212.0,562.0 L216.0,568.0 L214.0,575.0 L204.0,580.0" fill="none" stroke="#f0a21c" stroke-width="13" stroke-linecap="round" stroke-linejoin="round" opacity="1" filter="url(#bl)"/><path d="M208.0,559.0 L214.0,566.0 L215.0,571.0" fill="none" stroke="#f8d424" stroke-width="8" stroke-linecap="round" stroke-linejoin="round" opacity="1" filter="url(#bl)"/><path d="M210.0,563.0 L213.0,568.0" fill="none" stroke="#fbe860" stroke-width="3" stroke-linecap="round" stroke-linejoin="round" opacity="1" filter="url(#bl)"/><path d="M201.0,580.0 L212.0,584.0" fill="none" stroke="#e98a16" stroke-width="5" stroke-linecap="round" stroke-linejoin="round" opacity="1" filter="url(#bl)"/><path d="M285.0,551.0 L296.0,552.0" fill="none" stroke="#e98a16" stroke-width="10" stroke-linecap="round" stroke-linejoin="round" opacity="1" filter="url(#bl)"/><path d="M286.0,551.0 L294.0,552.0" fill="none" stroke="#f8d424" stroke-width="5.5" stroke-linecap="round" stroke-linejoin="round" opacity="1" filter="url(#bl)"/><path d="M289.0,551.0 L292.0,552.0" fill="none" stroke="#fbe860" stroke-width="2" stroke-linecap="round" stroke-linejoin="round" opacity="1" filter="url(#bl)"/><path d="M270.0,565.0 L277.0,566.0" fill="none" stroke="#e98a16" stroke-width="9" stroke-linecap="round" stroke-linejoin="round" opacity="1" filter="url(#bl)"/><path d="M271.0,565.0 L276.0,566.0" fill="none" stroke="#f8d424" stroke-width="4.5" stroke-linecap="round" stroke-linejoin="round" opacity="1" filter="url(#bl)"/><path d="M262.0,570.0 L267.0,571.0" fill="none" stroke="#e98a16" stroke-width="4" stroke-linecap="round" stroke-linejoin="round" opacity="1" filter="url(#bl)"/><path d="M222.5,587.5 L224.0,588.0" fill="none" stroke="#e98a16" stroke-width="3" stroke-linecap="round" stroke-linejoin="round" opacity="1" filter="url(#bl)"/></g>
<g filter="url(#blur03)"><rect x="785.2" y="109.2" width="2.9" height="2.9" fill="#f6c01c"/><rect x="787.8" y="109.2" width="5.5" height="2.9" fill="#f9dc20"/><rect x="793.0" y="109.2" width="2.9" height="2.9" fill="#f6c01c"/><rect x="785.2" y="111.8" width="2.9" height="2.9" fill="#f6c01c"/><rect x="787.8" y="111.8" width="5.5" height="2.9" fill="#f9dc20"/><rect x="793.0" y="111.8" width="2.9" height="2.9" fill="#f6c01c"/><rect x="795.6" y="111.8" width="2.9" height="2.9" fill="#ef9a18"/><rect x="785.2" y="114.4" width="2.9" height="2.9" fill="#f6c01c"/><rect x="787.8" y="114.4" width="5.5" height="2.9" fill="#f9dc20"/><rect x="793.0" y="114.4" width="2.9" height="2.9" fill="#f6c01c"/><rect x="787.8" y="104.0" width="2.9" height="2.9" fill="#ef9a18"/><rect x="790.4" y="104.0" width="5.5" height="2.9" fill="#f6c01c"/><rect x="787.8" y="106.6" width="8.1" height="2.9" fill="#f6c01c"/><rect x="795.6" y="106.6" width="2.9" height="2.9" fill="#ef9a18"/><rect x="790.4" y="117.0" width="2.9" height="2.9" fill="#f6c01c"/><rect x="790.4" y="119.6" width="2.9" height="2.9" fill="#ef9a18"/><rect x="793.0" y="119.6" width="2.9" height="2.9" fill="#f6c01c"/><rect x="790.4" y="122.2" width="5.5" height="2.9" fill="#f6c01c"/><rect x="790.4" y="124.8" width="5.5" height="2.9" fill="#f6c01c"/><rect x="790.4" y="127.4" width="5.5" height="2.9" fill="#f6c01c"/><rect x="790.4" y="130.0" width="5.5" height="2.9" fill="#f6c01c"/><rect x="777.4" y="135.2" width="2.9" height="2.9" fill="#ef9a18"/><rect x="780.0" y="135.2" width="2.9" height="2.9" fill="#f6c01c"/><rect x="777.4" y="137.8" width="8.1" height="2.9" fill="#f6c01c"/><rect x="904.8" y="104.0" width="2.9" height="2.9" fill="#ef9a18"/><rect x="907.4" y="104.0" width="5.5" height="2.9" fill="#f9dc20"/><rect x="912.6" y="104.0" width="2.9" height="2.9" fill="#f6c01c"/><rect x="904.8" y="106.6" width="2.9" height="2.9" fill="#f6c01c"/><rect x="907.4" y="106.6" width="5.5" height="2.9" fill="#f9dc20"/><rect x="912.6" y="106.6" width="2.9" height="2.9" fill="#f6c01c"/><rect x="904.8" y="111.8" width="2.9" height="2.9" fill="#f6c01c"/><rect x="907.4" y="111.8" width="5.5" height="2.9" fill="#f9dc20"/><rect x="912.6" y="111.8" width="2.9" height="2.9" fill="#f6c01c"/><rect x="907.4" y="101.4" width="5.5" height="2.9" fill="#f6c01c"/><rect x="907.4" y="109.2" width="5.5" height="2.9" fill="#f9dc20"/><rect x="912.6" y="109.2" width="2.9" height="2.9" fill="#f6c01c"/><rect x="907.4" y="114.4" width="8.1" height="2.9" fill="#f6c01c"/><rect x="907.4" y="117.0" width="5.5" height="2.9" fill="#f6c01c"/><rect x="910.0" y="98.8" width="2.9" height="2.9" fill="#f6c01c"/><rect x="891.8" y="135.2" width="2.9" height="2.9" fill="#f6c01c"/><rect x="894.4" y="135.2" width="2.9" height="2.9" fill="#f9dc20"/><rect x="897.0" y="135.2" width="5.5" height="2.9" fill="#fdf3a0"/><rect x="902.2" y="135.2" width="8.1" height="2.9" fill="#f9dc20"/><rect x="910.0" y="135.2" width="2.9" height="2.9" fill="#f6c01c"/><rect x="894.4" y="137.8" width="2.9" height="2.9" fill="#f6c01c"/><rect x="897.0" y="137.8" width="10.7" height="2.9" fill="#f9dc20"/><rect x="907.4" y="137.8" width="5.5" height="2.9" fill="#f6c01c"/><rect x="897.0" y="132.6" width="10.7" height="2.9" fill="#f6c01c"/><rect x="899.6" y="140.4" width="2.9" height="2.9" fill="#f6c01c"/><rect x="904.8" y="140.4" width="2.9" height="2.9" fill="#f6c01c"/><rect x="1037.4" y="106.6" width="2.9" height="2.9" fill="#f6c01c"/><rect x="1040.0" y="106.6" width="5.5" height="2.9" fill="#f9dc20"/><rect x="1045.2" y="106.6" width="2.9" height="2.9" fill="#f6c01c"/><rect x="1037.4" y="109.2" width="10.7" height="2.9" fill="#f9dc20"/><rect x="1047.8" y="109.2" width="2.9" height="2.9" fill="#f6c01c"/><rect x="1037.4" y="111.8" width="2.9" height="2.9" fill="#f6c01c"/><rect x="1040.0" y="111.8" width="5.5" height="2.9" fill="#f9dc20"/><rect x="1045.2" y="111.8" width="2.9" height="2.9" fill="#f6c01c"/><rect x="1037.4" y="114.4" width="8.1" height="2.9" fill="#f6c01c"/><rect x="1045.2" y="114.4" width="2.9" height="2.9" fill="#ef9a18"/><rect x="1040.0" y="104.0" width="8.1" height="2.9" fill="#f6c01c"/><rect x="1037.4" y="124.8" width="5.5" height="2.9" fill="#ef9a18"/><rect x="1037.4" y="127.4" width="5.5" height="2.9" fill="#ef9a18"/><rect x="1037.4" y="130.0" width="5.5" height="2.9" fill="#ef9a18"/><rect x="1024.4" y="140.4" width="5.5" height="2.9" fill="#f6c01c"/><rect x="1029.6" y="140.4" width="8.1" height="2.9" fill="#f9dc20"/><rect x="1037.4" y="140.4" width="2.9" height="2.9" fill="#f6c01c"/><rect x="1027.0" y="135.2" width="5.5" height="2.9" fill="#f6c01c"/><rect x="1032.2" y="135.2" width="2.9" height="2.9" fill="#f9dc20"/><rect x="1034.8" y="135.2" width="5.5" height="2.9" fill="#f6c01c"/><rect x="1027.0" y="137.8" width="13.3" height="2.9" fill="#f9dc20"/><rect x="1040.0" y="137.8" width="2.9" height="2.9" fill="#f6c01c"/><rect x="1029.6" y="143.0" width="10.7" height="2.9" fill="#f6c01c"/><rect x="361.4" y="366.6" width="2.9" height="2.9" fill="#f2c610"/><rect x="364.0" y="366.6" width="13.3" height="2.9" fill="#f9e012"/><rect x="361.4" y="377.0" width="2.9" height="2.9" fill="#f2c610"/><rect x="366.6" y="377.0" width="8.1" height="2.9" fill="#f9e012"/><rect x="364.0" y="369.2" width="13.3" height="2.9" fill="#f9e012"/><rect x="377.0" y="369.2" width="2.9" height="2.9" fill="#f2c610"/><rect x="364.0" y="371.8" width="13.3" height="2.9" fill="#f9e012"/><rect x="364.0" y="374.4" width="13.3" height="2.9" fill="#f9e012"/><rect x="366.6" y="361.4" width="5.5" height="2.9" fill="#f2c610"/><rect x="379.6" y="361.4" width="2.9" height="2.9" fill="#f2c610"/><rect x="366.6" y="364.0" width="2.9" height="2.9" fill="#f2c610"/><rect x="369.2" y="364.0" width="5.5" height="2.9" fill="#f9e012"/><rect x="366.6" y="379.6" width="2.9" height="2.9" fill="#f9e012"/><rect x="369.2" y="379.6" width="2.9" height="2.9" fill="#f2c610"/><rect x="377.0" y="356.2" width="2.9" height="2.9" fill="#f2c610"/><rect x="379.6" y="356.2" width="2.9" height="2.9" fill="#f9e012"/><rect x="377.0" y="358.8" width="5.5" height="2.9" fill="#f9e012"/><rect x="382.2" y="358.8" width="2.9" height="2.9" fill="#f2c610"/><rect x="369.2" y="382.2" width="2.9" height="2.9" fill="#f2c610"/><rect x="371.8" y="382.2" width="2.9" height="2.9" fill="#f9e012"/><rect x="369.2" y="384.8" width="2.9" height="2.9" fill="#f2c610"/><rect x="371.8" y="384.8" width="2.9" height="2.9" fill="#f9e012"/><rect x="371.8" y="387.4" width="2.9" height="2.9" fill="#f2c610"/><rect x="390.0" y="332.8" width="8.1" height="2.9" fill="#f2c610"/><rect x="390.0" y="335.4" width="8.1" height="2.9" fill="#f9e012"/><rect x="390.0" y="338.0" width="2.9" height="2.9" fill="#f2c610"/><rect x="392.6" y="338.0" width="2.9" height="2.9" fill="#f9e012"/><rect x="395.2" y="338.0" width="2.9" height="2.9" fill="#f2c610"/><rect x="494.0" y="332.8" width="5.5" height="2.9" fill="#f2c610"/><rect x="499.2" y="332.8" width="21.1" height="2.9" fill="#f9e012"/><rect x="520.0" y="332.8" width="2.9" height="2.9" fill="#f2c610"/><rect x="496.6" y="330.2" width="5.5" height="2.9" fill="#f2c610"/><rect x="501.8" y="330.2" width="15.9" height="2.9" fill="#f9e012"/><rect x="496.6" y="335.4" width="2.9" height="2.9" fill="#f2c610"/><rect x="499.2" y="335.4" width="18.5" height="2.9" fill="#f9e012"/><rect x="501.8" y="338.0" width="2.9" height="2.9" fill="#f2c610"/><rect x="507.0" y="338.0" width="5.5" height="2.9" fill="#f2c610"/><rect x="509.6" y="327.6" width="2.9" height="2.9" fill="#f2c610"/><rect x="470.6" y="366.6" width="2.9" height="2.9" fill="#f2c610"/><rect x="473.2" y="366.6" width="13.3" height="2.9" fill="#f9e012"/><rect x="473.2" y="364.0" width="5.5" height="2.9" fill="#f2c610"/><rect x="478.4" y="364.0" width="5.5" height="2.9" fill="#f9e012"/><rect x="488.8" y="364.0" width="2.9" height="2.9" fill="#f2c610"/><rect x="491.4" y="364.0" width="13.3" height="2.9" fill="#f9e012"/><rect x="473.2" y="369.2" width="13.3" height="2.9" fill="#f9e012"/><rect x="478.4" y="371.8" width="2.9" height="2.9" fill="#f2c610"/><rect x="488.8" y="361.4" width="2.9" height="2.9" fill="#f2c610"/><rect x="491.4" y="361.4" width="13.3" height="2.9" fill="#f9e012"/><rect x="504.4" y="361.4" width="2.9" height="2.9" fill="#f2c610"/><rect x="491.4" y="358.8" width="2.9" height="2.9" fill="#f9e012"/><rect x="494.0" y="358.8" width="2.9" height="2.9" fill="#f2c610"/><rect x="496.6" y="358.8" width="5.5" height="2.9" fill="#f9e012"/><rect x="483.6" y="379.6" width="2.9" height="2.9" fill="#f9e012"/><rect x="483.6" y="382.2" width="2.9" height="2.9" fill="#f9e012"/><rect x="486.2" y="382.2" width="2.9" height="2.9" fill="#f2c610"/><rect x="629.2" y="327.6" width="5.5" height="2.9" fill="#f2c610"/><rect x="634.4" y="327.6" width="13.3" height="2.9" fill="#f9e012"/><rect x="647.4" y="327.6" width="2.9" height="2.9" fill="#f2c610"/><rect x="631.8" y="330.2" width="18.5" height="2.9" fill="#f9e012"/><rect x="634.4" y="325.0" width="13.3" height="2.9" fill="#f9e012"/><rect x="647.4" y="325.0" width="2.9" height="2.9" fill="#f2c610"/><rect x="634.4" y="332.8" width="13.3" height="2.9" fill="#f9e012"/><rect x="634.4" y="335.4" width="2.9" height="2.9" fill="#f2c610"/><rect x="637.0" y="335.4" width="2.9" height="2.9" fill="#f9e012"/><rect x="639.6" y="335.4" width="5.5" height="2.9" fill="#f2c610"/><rect x="637.0" y="322.4" width="2.9" height="2.9" fill="#f9e012"/><rect x="639.6" y="322.4" width="8.1" height="2.9" fill="#f2c610"/><rect x="611.0" y="366.6" width="2.9" height="2.9" fill="#f2c610"/><rect x="613.6" y="366.6" width="8.1" height="2.9" fill="#f9e012"/><rect x="611.0" y="369.2" width="10.7" height="2.9" fill="#f9e012"/><rect x="621.4" y="369.2" width="2.9" height="2.9" fill="#f2c610"/><rect x="637.0" y="361.4" width="2.9" height="2.9" fill="#f2c610"/><rect x="639.6" y="361.4" width="2.9" height="2.9" fill="#f9e012"/><rect x="637.0" y="364.0" width="2.9" height="2.9" fill="#f2c610"/><rect x="639.6" y="364.0" width="2.9" height="2.9" fill="#f9e012"/><rect x="616.2" y="382.2" width="2.9" height="2.9" fill="#f2c610"/><rect x="618.8" y="382.2" width="2.9" height="2.9" fill="#f9e012"/><rect x="621.4" y="382.2" width="2.9" height="2.9" fill="#f2c610"/><rect x="777.4" y="319.8" width="2.9" height="2.9" fill="#f2c610"/><rect x="780.0" y="319.8" width="10.7" height="2.9" fill="#f9e012"/><rect x="790.4" y="319.8" width="2.9" height="2.9" fill="#f2c610"/><rect x="780.0" y="317.2" width="8.1" height="2.9" fill="#f9e012"/><rect x="787.8" y="317.2" width="2.9" height="2.9" fill="#f2c610"/><rect x="780.0" y="322.4" width="8.1" height="2.9" fill="#f9e012"/><rect x="787.8" y="322.4" width="2.9" height="2.9" fill="#f2c610"/><rect x="780.0" y="325.0" width="8.1" height="2.9" fill="#f2c610"/><rect x="782.6" y="314.6" width="5.5" height="2.9" fill="#f2c610"/><rect x="930.8" y="319.8" width="2.9" height="2.9" fill="#f2c610"/><rect x="933.4" y="319.8" width="10.7" height="2.9" fill="#f9e012"/><rect x="943.8" y="319.8" width="5.5" height="2.9" fill="#f2c610"/><rect x="933.4" y="314.6" width="2.9" height="2.9" fill="#f2c610"/><rect x="936.0" y="314.6" width="5.5" height="2.9" fill="#f9e012"/><rect x="941.2" y="314.6" width="5.5" height="2.9" fill="#f2c610"/><rect x="933.4" y="317.2" width="10.7" height="2.9" fill="#f9e012"/><rect x="943.8" y="317.2" width="5.5" height="2.9" fill="#f2c610"/><rect x="933.4" y="322.4" width="2.9" height="2.9" fill="#f2c610"/><rect x="936.0" y="322.4" width="8.1" height="2.9" fill="#f9e012"/><rect x="943.8" y="322.4" width="2.9" height="2.9" fill="#f2c610"/><rect x="938.6" y="312.0" width="2.9" height="2.9" fill="#f2c610"/><rect x="938.6" y="325.0" width="2.9" height="2.9" fill="#f9e012"/><rect x="1084.2" y="309.4" width="15.9" height="2.9" fill="#f9e012"/><rect x="1084.2" y="312.0" width="8.1" height="2.9" fill="#f9e012"/><rect x="1092.0" y="312.0" width="2.9" height="2.9" fill="#fdf6a8"/><rect x="1094.6" y="312.0" width="5.5" height="2.9" fill="#f9e012"/><rect x="1084.2" y="314.6" width="2.9" height="2.9" fill="#f2c610"/><rect x="1086.8" y="314.6" width="13.3" height="2.9" fill="#f9e012"/><rect x="1086.8" y="306.8" width="5.5" height="2.9" fill="#f9e012"/><rect x="1092.0" y="306.8" width="2.9" height="2.9" fill="#f2c610"/><rect x="1089.4" y="317.2" width="5.5" height="2.9" fill="#f9e012"/><rect x="377.0" y="525.2" width="2.9" height="2.9" fill="#ef9a18"/><rect x="379.6" y="525.2" width="18.5" height="2.9" fill="#f6c01c"/><rect x="397.8" y="525.2" width="2.9" height="2.9" fill="#ef9a18"/><rect x="379.6" y="522.6" width="8.1" height="2.9" fill="#ef9a18"/><rect x="387.4" y="522.6" width="8.1" height="2.9" fill="#f6c01c"/><rect x="379.6" y="527.8" width="5.5" height="2.9" fill="#ef9a18"/><rect x="384.8" y="527.8" width="10.7" height="2.9" fill="#f6c01c"/><rect x="395.2" y="527.8" width="2.9" height="2.9" fill="#ef9a18"/><rect x="390.0" y="530.4" width="2.9" height="2.9" fill="#f6c01c"/><rect x="392.6" y="530.4" width="2.9" height="2.9" fill="#ef9a18"/><rect x="390.0" y="533.0" width="5.5" height="2.9" fill="#f6c01c"/><rect x="390.0" y="535.6" width="5.5" height="2.9" fill="#f6c01c"/><rect x="390.0" y="538.2" width="5.5" height="2.9" fill="#ef9a18"/><rect x="374.4" y="543.4" width="2.9" height="2.9" fill="#ef9a18"/><rect x="377.0" y="543.4" width="8.1" height="2.9" fill="#f6c01c"/><rect x="384.8" y="543.4" width="5.5" height="2.9" fill="#ef9a18"/><rect x="447.2" y="543.4" width="5.5" height="2.9" fill="#f6c01c"/><rect x="452.4" y="543.4" width="2.9" height="2.9" fill="#ef9a18"/><rect x="377.0" y="540.8" width="5.5" height="2.9" fill="#f6c01c"/><rect x="377.0" y="546.0" width="13.3" height="2.9" fill="#f6c01c"/><rect x="444.6" y="546.0" width="13.3" height="2.9" fill="#f6c01c"/><rect x="361.4" y="559.0" width="5.5" height="2.9" fill="#f6c01c"/><rect x="366.6" y="559.0" width="5.5" height="2.9" fill="#f9dc20"/><rect x="371.8" y="559.0" width="2.9" height="2.9" fill="#fdf3a0"/><rect x="374.4" y="559.0" width="5.5" height="2.9" fill="#f9dc20"/><rect x="379.6" y="559.0" width="2.9" height="2.9" fill="#f6c01c"/><rect x="426.4" y="559.0" width="13.3" height="2.9" fill="#ef9a18"/><rect x="361.4" y="564.2" width="5.5" height="2.9" fill="#f9dc20"/><rect x="366.6" y="564.2" width="10.7" height="2.9" fill="#fdf3a0"/><rect x="377.0" y="564.2" width="2.9" height="2.9" fill="#f9dc20"/><rect x="379.6" y="564.2" width="2.9" height="2.9" fill="#f6c01c"/><rect x="418.6" y="564.2" width="5.5" height="2.9" fill="#ef9a18"/><rect x="423.8" y="564.2" width="2.9" height="2.9" fill="#f6c01c"/><rect x="426.4" y="564.2" width="2.9" height="2.9" fill="#ef9a18"/><rect x="429.0" y="564.2" width="10.7" height="2.9" fill="#f6c01c"/><rect x="361.4" y="566.8" width="5.5" height="2.9" fill="#f9dc20"/><rect x="366.6" y="566.8" width="10.7" height="2.9" fill="#fdf3a0"/><rect x="377.0" y="566.8" width="5.5" height="2.9" fill="#f9dc20"/><rect x="421.2" y="566.8" width="5.5" height="2.9" fill="#ef9a18"/><rect x="429.0" y="566.8" width="8.1" height="2.9" fill="#ef9a18"/><rect x="361.4" y="569.4" width="2.9" height="2.9" fill="#f9dc20"/><rect x="364.0" y="569.4" width="2.9" height="2.9" fill="#f6c01c"/><rect x="366.6" y="569.4" width="2.9" height="2.9" fill="#f9dc20"/><rect x="369.2" y="569.4" width="8.1" height="2.9" fill="#fdf3a0"/><rect x="377.0" y="569.4" width="2.9" height="2.9" fill="#f9dc20"/><rect x="379.6" y="569.4" width="5.5" height="2.9" fill="#f6c01c"/><rect x="364.0" y="553.8" width="2.9" height="2.9" fill="#f6c01c"/><rect x="366.6" y="553.8" width="2.9" height="2.9" fill="#f9dc20"/><rect x="371.8" y="553.8" width="2.9" height="2.9" fill="#f6c01c"/><rect x="374.4" y="553.8" width="5.5" height="2.9" fill="#f9dc20"/><rect x="379.6" y="553.8" width="2.9" height="2.9" fill="#f6c01c"/><rect x="382.2" y="553.8" width="2.9" height="2.9" fill="#ef9a18"/><rect x="449.8" y="553.8" width="8.1" height="2.9" fill="#f6c01c"/><rect x="364.0" y="556.4" width="2.9" height="2.9" fill="#f9dc20"/><rect x="366.6" y="556.4" width="2.9" height="2.9" fill="#f6c01c"/><rect x="369.2" y="556.4" width="10.7" height="2.9" fill="#f9dc20"/><rect x="379.6" y="556.4" width="5.5" height="2.9" fill="#f6c01c"/><rect x="364.0" y="561.6" width="5.5" height="2.9" fill="#f9dc20"/><rect x="369.2" y="561.6" width="5.5" height="2.9" fill="#fdf3a0"/><rect x="374.4" y="561.6" width="5.5" height="2.9" fill="#f9dc20"/><rect x="379.6" y="561.6" width="2.9" height="2.9" fill="#f6c01c"/><rect x="426.4" y="561.6" width="2.9" height="2.9" fill="#ef9a18"/><rect x="429.0" y="561.6" width="8.1" height="2.9" fill="#f6c01c"/><rect x="436.8" y="561.6" width="5.5" height="2.9" fill="#ef9a18"/><rect x="364.0" y="572.0" width="2.9" height="2.9" fill="#f6c01c"/><rect x="366.6" y="572.0" width="15.9" height="2.9" fill="#f9dc20"/><rect x="364.0" y="574.6" width="2.9" height="2.9" fill="#f6c01c"/><rect x="366.6" y="574.6" width="13.3" height="2.9" fill="#f9dc20"/><rect x="364.0" y="577.2" width="8.1" height="2.9" fill="#f6c01c"/><rect x="371.8" y="577.2" width="5.5" height="2.9" fill="#f9dc20"/><rect x="371.8" y="551.2" width="8.1" height="2.9" fill="#f6c01c"/><rect x="379.6" y="551.2" width="2.9" height="2.9" fill="#f9dc20"/><rect x="444.6" y="551.2" width="2.9" height="2.9" fill="#f6c01c"/><rect x="447.2" y="551.2" width="5.5" height="2.9" fill="#ef9a18"/><rect x="452.4" y="551.2" width="2.9" height="2.9" fill="#f6c01c"/><rect x="455.0" y="551.2" width="2.9" height="2.9" fill="#ef9a18"/><rect x="374.4" y="579.8" width="2.9" height="2.9" fill="#f6c01c"/><rect x="379.6" y="548.6" width="2.9" height="2.9" fill="#ef9a18"/><rect x="444.6" y="548.6" width="13.3" height="2.9" fill="#f6c01c"/><rect x="488.8" y="520.0" width="10.7" height="2.9" fill="#f6c01c"/><rect x="499.2" y="520.0" width="18.5" height="2.9" fill="#f9dc20"/><rect x="517.4" y="520.0" width="5.5" height="2.9" fill="#f6c01c"/><rect x="488.8" y="522.6" width="10.7" height="2.9" fill="#f6c01c"/><rect x="499.2" y="522.6" width="15.9" height="2.9" fill="#f9dc20"/><rect x="514.8" y="522.6" width="10.7" height="2.9" fill="#f6c01c"/><rect x="494.0" y="517.4" width="23.7" height="2.9" fill="#f6c01c"/><rect x="517.4" y="517.4" width="2.9" height="2.9" fill="#ef9a18"/><rect x="494.0" y="525.2" width="10.7" height="2.9" fill="#f6c01c"/><rect x="504.4" y="525.2" width="2.9" height="2.9" fill="#f9dc20"/><rect x="507.0" y="525.2" width="15.9" height="2.9" fill="#f6c01c"/><rect x="496.6" y="527.8" width="2.9" height="2.9" fill="#ef9a18"/><rect x="504.4" y="527.8" width="2.9" height="2.9" fill="#ef9a18"/><rect x="507.0" y="527.8" width="5.5" height="2.9" fill="#f6c01c"/><rect x="512.2" y="527.8" width="5.5" height="2.9" fill="#ef9a18"/><rect x="486.2" y="535.6" width="2.9" height="2.9" fill="#ef9a18"/><rect x="488.8" y="535.6" width="5.5" height="2.9" fill="#f6c01c"/><rect x="494.0" y="535.6" width="2.9" height="2.9" fill="#ef9a18"/><rect x="486.2" y="538.2" width="2.9" height="2.9" fill="#ef9a18"/><rect x="488.8" y="538.2" width="5.5" height="2.9" fill="#f6c01c"/><rect x="494.0" y="538.2" width="2.9" height="2.9" fill="#ef9a18"/><rect x="486.2" y="540.8" width="8.1" height="2.9" fill="#ef9a18"/><rect x="488.8" y="530.4" width="5.5" height="2.9" fill="#ef9a18"/><rect x="488.8" y="533.0" width="5.5" height="2.9" fill="#f6c01c"/><rect x="494.0" y="533.0" width="2.9" height="2.9" fill="#ef9a18"/><rect x="491.4" y="543.4" width="2.9" height="2.9" fill="#ef9a18"/><rect x="501.8" y="543.4" width="8.1" height="2.9" fill="#ef9a18"/><rect x="566.8" y="543.4" width="5.5" height="2.9" fill="#f6c01c"/><rect x="572.0" y="543.4" width="2.9" height="2.9" fill="#ef9a18"/><rect x="574.6" y="543.4" width="2.9" height="2.9" fill="#f6c01c"/><rect x="577.2" y="543.4" width="2.9" height="2.9" fill="#ef9a18"/><rect x="496.6" y="546.0" width="5.5" height="2.9" fill="#ef9a18"/><rect x="501.8" y="546.0" width="8.1" height="2.9" fill="#f6c01c"/><rect x="509.6" y="546.0" width="2.9" height="2.9" fill="#ef9a18"/><rect x="566.8" y="546.0" width="13.3" height="2.9" fill="#f6c01c"/><rect x="496.6" y="548.6" width="2.9" height="2.9" fill="#ef9a18"/><rect x="499.2" y="548.6" width="10.7" height="2.9" fill="#f6c01c"/><rect x="509.6" y="548.6" width="5.5" height="2.9" fill="#ef9a18"/><rect x="564.2" y="548.6" width="2.9" height="2.9" fill="#ef9a18"/><rect x="566.8" y="548.6" width="13.3" height="2.9" fill="#f6c01c"/><rect x="483.6" y="551.2" width="2.9" height="2.9" fill="#f6c01c"/><rect x="488.8" y="551.2" width="2.9" height="2.9" fill="#f9dc20"/><rect x="491.4" y="551.2" width="2.9" height="2.9" fill="#f6c01c"/><rect x="496.6" y="551.2" width="13.3" height="2.9" fill="#f6c01c"/><rect x="509.6" y="551.2" width="2.9" height="2.9" fill="#ef9a18"/><rect x="566.8" y="551.2" width="2.9" height="2.9" fill="#ef9a18"/><rect x="569.4" y="551.2" width="10.7" height="2.9" fill="#f6c01c"/><rect x="486.2" y="553.8" width="5.5" height="2.9" fill="#f9dc20"/><rect x="491.4" y="553.8" width="18.5" height="2.9" fill="#f6c01c"/><rect x="509.6" y="553.8" width="2.9" height="2.9" fill="#ef9a18"/><rect x="572.0" y="553.8" width="2.9" height="2.9" fill="#ef9a18"/><rect x="483.6" y="556.4" width="2.9" height="2.9" fill="#f9dc20"/><rect x="486.2" y="556.4" width="2.9" height="2.9" fill="#f6c01c"/><rect x="488.8" y="556.4" width="5.5" height="2.9" fill="#f9dc20"/><rect x="494.0" y="556.4" width="5.5" height="2.9" fill="#f6c01c"/><rect x="499.2" y="556.4" width="2.9" height="2.9" fill="#f9dc20"/><rect x="501.8" y="556.4" width="2.9" height="2.9" fill="#f6c01c"/><rect x="504.4" y="556.4" width="5.5" height="2.9" fill="#ef9a18"/><rect x="478.4" y="561.6" width="5.5" height="2.9" fill="#f6c01c"/><rect x="483.6" y="561.6" width="5.5" height="2.9" fill="#f9dc20"/><rect x="488.8" y="561.6" width="2.9" height="2.9" fill="#fdf3a0"/><rect x="491.4" y="561.6" width="2.9" height="2.9" fill="#f9dc20"/><rect x="494.0" y="561.6" width="5.5" height="2.9" fill="#fdf3a0"/><rect x="499.2" y="561.6" width="2.9" height="2.9" fill="#f9dc20"/><rect x="501.8" y="561.6" width="2.9" height="2.9" fill="#f6c01c"/><rect x="551.2" y="561.6" width="8.1" height="2.9" fill="#f6c01c"/><rect x="478.4" y="569.4" width="5.5" height="2.9" fill="#f6c01c"/><rect x="483.6" y="569.4" width="2.9" height="2.9" fill="#f9dc20"/><rect x="486.2" y="569.4" width="13.3" height="2.9" fill="#fdf3a0"/><rect x="499.2" y="569.4" width="5.5" height="2.9" fill="#f6c01c"/><rect x="540.8" y="569.4" width="5.5" height="2.9" fill="#ef9a18"/><rect x="553.8" y="569.4" width="2.9" height="2.9" fill="#f6c01c"/><rect x="481.0" y="559.0" width="2.9" height="2.9" fill="#f6c01c"/><rect x="483.6" y="559.0" width="8.1" height="2.9" fill="#f9dc20"/><rect x="491.4" y="559.0" width="2.9" height="2.9" fill="#fdf3a0"/><rect x="494.0" y="559.0" width="5.5" height="2.9" fill="#f9dc20"/><rect x="499.2" y="559.0" width="2.9" height="2.9" fill="#f6c01c"/><rect x="551.2" y="559.0" width="2.9" height="2.9" fill="#ef9a18"/><rect x="553.8" y="559.0" width="5.5" height="2.9" fill="#f6c01c"/><rect x="481.0" y="564.2" width="2.9" height="2.9" fill="#f6c01c"/><rect x="483.6" y="564.2" width="5.5" height="2.9" fill="#f9dc20"/><rect x="488.8" y="564.2" width="8.1" height="2.9" fill="#fdf3a0"/><rect x="496.6" y="564.2" width="5.5" height="2.9" fill="#f9dc20"/><rect x="501.8" y="564.2" width="2.9" height="2.9" fill="#f6c01c"/><rect x="551.2" y="564.2" width="2.9" height="2.9" fill="#f6c01c"/><rect x="553.8" y="564.2" width="2.9" height="2.9" fill="#f9dc20"/><rect x="556.4" y="564.2" width="2.9" height="2.9" fill="#f6c01c"/><rect x="559.0" y="564.2" width="2.9" height="2.9" fill="#ef9a18"/><rect x="481.0" y="566.8" width="2.9" height="2.9" fill="#f6c01c"/><rect x="483.6" y="566.8" width="5.5" height="2.9" fill="#f9dc20"/><rect x="488.8" y="566.8" width="10.7" height="2.9" fill="#fdf3a0"/><rect x="499.2" y="566.8" width="5.5" height="2.9" fill="#f9dc20"/><rect x="551.2" y="566.8" width="8.1" height="2.9" fill="#f6c01c"/><rect x="481.0" y="572.0" width="2.9" height="2.9" fill="#f6c01c"/><rect x="483.6" y="572.0" width="5.5" height="2.9" fill="#f9dc20"/><rect x="488.8" y="572.0" width="8.1" height="2.9" fill="#fdf3a0"/><rect x="496.6" y="572.0" width="2.9" height="2.9" fill="#f9dc20"/><rect x="499.2" y="572.0" width="5.5" height="2.9" fill="#f6c01c"/><rect x="481.0" y="574.6" width="2.9" height="2.9" fill="#f6c01c"/><rect x="483.6" y="574.6" width="10.7" height="2.9" fill="#f9dc20"/><rect x="494.0" y="574.6" width="2.9" height="2.9" fill="#fdf3a0"/><rect x="496.6" y="574.6" width="2.9" height="2.9" fill="#f9dc20"/><rect x="499.2" y="574.6" width="5.5" height="2.9" fill="#f6c01c"/><rect x="483.6" y="577.2" width="2.9" height="2.9" fill="#f6c01c"/><rect x="486.2" y="577.2" width="13.3" height="2.9" fill="#f9dc20"/><rect x="488.8" y="579.8" width="2.9" height="2.9" fill="#f6c01c"/><rect x="491.4" y="579.8" width="2.9" height="2.9" fill="#f9dc20"/><rect x="494.0" y="579.8" width="2.9" height="2.9" fill="#f6c01c"/><rect x="499.2" y="579.8" width="2.9" height="2.9" fill="#f6c01c"/><rect x="499.2" y="585.0" width="8.1" height="2.9" fill="#ef9a18"/><rect x="499.2" y="587.6" width="2.9" height="2.9" fill="#ef9a18"/><rect x="501.8" y="587.6" width="5.5" height="2.9" fill="#f6c01c"/><rect x="501.8" y="590.2" width="5.5" height="2.9" fill="#ef9a18"/><rect x="626.6" y="514.8" width="5.5" height="2.9" fill="#f6c01c"/><rect x="631.8" y="514.8" width="8.1" height="2.9" fill="#f9dc20"/><rect x="639.6" y="514.8" width="5.5" height="2.9" fill="#fdf3a0"/><rect x="644.8" y="514.8" width="2.9" height="2.9" fill="#f9dc20"/><rect x="647.4" y="514.8" width="2.9" height="2.9" fill="#f6c01c"/><rect x="629.2" y="517.4" width="5.5" height="2.9" fill="#f9dc20"/><rect x="634.4" y="517.4" width="10.7" height="2.9" fill="#fdf3a0"/><rect x="644.8" y="517.4" width="2.9" height="2.9" fill="#f9dc20"/><rect x="647.4" y="517.4" width="5.5" height="2.9" fill="#f6c01c"/><rect x="629.2" y="520.0" width="2.9" height="2.9" fill="#f6c01c"/><rect x="631.8" y="520.0" width="2.9" height="2.9" fill="#f9dc20"/><rect x="634.4" y="520.0" width="10.7" height="2.9" fill="#fdf3a0"/><rect x="644.8" y="520.0" width="5.5" height="2.9" fill="#f9dc20"/><rect x="650.0" y="520.0" width="2.9" height="2.9" fill="#f6c01c"/><rect x="631.8" y="512.2" width="5.5" height="2.9" fill="#f6c01c"/><rect x="637.0" y="512.2" width="8.1" height="2.9" fill="#f9dc20"/><rect x="644.8" y="512.2" width="5.5" height="2.9" fill="#f6c01c"/><rect x="631.8" y="522.6" width="13.3" height="2.9" fill="#f9dc20"/><rect x="644.8" y="522.6" width="2.9" height="2.9" fill="#f6c01c"/><rect x="650.0" y="522.6" width="2.9" height="2.9" fill="#f6c01c"/><rect x="634.4" y="525.2" width="2.9" height="2.9" fill="#f6c01c"/><rect x="637.0" y="525.2" width="2.9" height="2.9" fill="#f9dc20"/><rect x="639.6" y="525.2" width="2.9" height="2.9" fill="#f6c01c"/><rect x="642.2" y="525.2" width="2.9" height="2.9" fill="#f9dc20"/><rect x="637.0" y="509.6" width="8.1" height="2.9" fill="#f6c01c"/><rect x="613.6" y="561.6" width="2.9" height="2.9" fill="#ef9a18"/><rect x="616.2" y="561.6" width="2.9" height="2.9" fill="#f6c01c"/><rect x="618.8" y="561.6" width="5.5" height="2.9" fill="#f9dc20"/><rect x="624.0" y="561.6" width="2.9" height="2.9" fill="#f6c01c"/><rect x="616.2" y="553.8" width="10.7" height="2.9" fill="#ef9a18"/><rect x="637.0" y="553.8" width="2.9" height="2.9" fill="#ef9a18"/><rect x="639.6" y="553.8" width="2.9" height="2.9" fill="#f6c01c"/><rect x="616.2" y="556.4" width="2.9" height="2.9" fill="#ef9a18"/><rect x="618.8" y="556.4" width="5.5" height="2.9" fill="#f6c01c"/><rect x="616.2" y="559.0" width="8.1" height="2.9" fill="#f6c01c"/><rect x="624.0" y="559.0" width="2.9" height="2.9" fill="#ef9a18"/><rect x="616.2" y="564.2" width="2.9" height="2.9" fill="#f6c01c"/><rect x="618.8" y="564.2" width="5.5" height="2.9" fill="#f9dc20"/><rect x="624.0" y="564.2" width="5.5" height="2.9" fill="#f6c01c"/><rect x="678.6" y="564.2" width="8.1" height="2.9" fill="#ef9a18"/><rect x="616.2" y="566.8" width="2.9" height="2.9" fill="#f6c01c"/><rect x="618.8" y="566.8" width="5.5" height="2.9" fill="#f9dc20"/><rect x="624.0" y="566.8" width="2.9" height="2.9" fill="#f6c01c"/><rect x="681.2" y="566.8" width="5.5" height="2.9" fill="#ef9a18"/><rect x="616.2" y="569.4" width="2.9" height="2.9" fill="#f6c01c"/><rect x="618.8" y="569.4" width="2.9" height="2.9" fill="#f9dc20"/><rect x="621.4" y="569.4" width="5.5" height="2.9" fill="#f6c01c"/><rect x="626.6" y="569.4" width="2.9" height="2.9" fill="#ef9a18"/><rect x="616.2" y="572.0" width="10.7" height="2.9" fill="#f6c01c"/><rect x="618.8" y="574.6" width="2.9" height="2.9" fill="#ef9a18"/><rect x="621.4" y="574.6" width="2.9" height="2.9" fill="#f6c01c"/><rect x="621.4" y="577.2" width="2.9" height="2.9" fill="#ef9a18"/><rect x="631.8" y="548.6" width="5.5" height="2.9" fill="#ef9a18"/><rect x="637.0" y="548.6" width="8.1" height="2.9" fill="#f6c01c"/><rect x="696.8" y="548.6" width="2.9" height="2.9" fill="#ef9a18"/><rect x="699.4" y="548.6" width="8.1" height="2.9" fill="#f6c01c"/><rect x="707.2" y="548.6" width="2.9" height="2.9" fill="#ef9a18"/><rect x="631.8" y="551.2" width="5.5" height="2.9" fill="#ef9a18"/><rect x="637.0" y="551.2" width="5.5" height="2.9" fill="#f6c01c"/><rect x="642.2" y="551.2" width="2.9" height="2.9" fill="#ef9a18"/><rect x="699.4" y="551.2" width="2.9" height="2.9" fill="#ef9a18"/><rect x="702.0" y="551.2" width="2.9" height="2.9" fill="#f6c01c"/><rect x="704.6" y="551.2" width="2.9" height="2.9" fill="#ef9a18"/><rect x="637.0" y="546.0" width="8.1" height="2.9" fill="#ef9a18"/><rect x="696.8" y="546.0" width="2.9" height="2.9" fill="#ef9a18"/><rect x="699.4" y="546.0" width="8.1" height="2.9" fill="#f6c01c"/><rect x="707.2" y="546.0" width="2.9" height="2.9" fill="#ef9a18"/><rect x="699.4" y="543.4" width="8.1" height="2.9" fill="#f6c01c"/><rect x="707.2" y="543.4" width="2.9" height="2.9" fill="#ef9a18"/><rect x="782.6" y="504.4" width="2.9" height="2.9" fill="#f6c01c"/><rect x="785.2" y="504.4" width="5.5" height="2.9" fill="#f9dc20"/><rect x="790.4" y="504.4" width="5.5" height="2.9" fill="#f6c01c"/><rect x="782.6" y="507.0" width="2.9" height="2.9" fill="#ef9a18"/><rect x="785.2" y="507.0" width="2.9" height="2.9" fill="#f6c01c"/><rect x="787.8" y="507.0" width="2.9" height="2.9" fill="#f9dc20"/><rect x="790.4" y="507.0" width="2.9" height="2.9" fill="#f6c01c"/><rect x="785.2" y="501.8" width="5.5" height="2.9" fill="#f6c01c"/><rect x="790.4" y="501.8" width="2.9" height="2.9" fill="#ef9a18"/><rect x="785.2" y="509.6" width="5.5" height="2.9" fill="#ef9a18"/><rect x="790.4" y="509.6" width="2.9" height="2.9" fill="#f6c01c"/><rect x="777.4" y="512.2" width="2.9" height="2.9" fill="#ef9a18"/><rect x="780.0" y="512.2" width="2.9" height="2.9" fill="#f6c01c"/><rect x="777.4" y="514.8" width="2.9" height="2.9" fill="#ef9a18"/><rect x="780.0" y="514.8" width="2.9" height="2.9" fill="#f6c01c"/><rect x="782.6" y="514.8" width="2.9" height="2.9" fill="#ef9a18"/><rect x="777.4" y="517.4" width="5.5" height="2.9" fill="#ef9a18"/><rect x="761.8" y="535.6" width="2.9" height="2.9" fill="#ef9a18"/><rect x="764.4" y="535.6" width="8.1" height="2.9" fill="#f6c01c"/><rect x="761.8" y="538.2" width="2.9" height="2.9" fill="#ef9a18"/><rect x="764.4" y="538.2" width="2.9" height="2.9" fill="#f6c01c"/><rect x="767.0" y="538.2" width="5.5" height="2.9" fill="#f9dc20"/><rect x="772.2" y="538.2" width="2.9" height="2.9" fill="#ef9a18"/><rect x="764.4" y="540.8" width="2.9" height="2.9" fill="#f6c01c"/><rect x="767.0" y="540.8" width="2.9" height="2.9" fill="#f9dc20"/><rect x="769.6" y="540.8" width="2.9" height="2.9" fill="#f6c01c"/><rect x="764.4" y="543.4" width="5.5" height="2.9" fill="#f6c01c"/><rect x="800.8" y="561.6" width="5.5" height="2.9" fill="#ef9a18"/><rect x="806.0" y="561.6" width="8.1" height="2.9" fill="#f6c01c"/><rect x="813.8" y="561.6" width="5.5" height="2.9" fill="#ef9a18"/><rect x="803.4" y="559.0" width="2.9" height="2.9" fill="#ef9a18"/><rect x="806.0" y="559.0" width="8.1" height="2.9" fill="#f6c01c"/><rect x="813.8" y="559.0" width="2.9" height="2.9" fill="#ef9a18"/><rect x="803.4" y="564.2" width="2.9" height="2.9" fill="#ef9a18"/><rect x="806.0" y="564.2" width="8.1" height="2.9" fill="#f6c01c"/><rect x="813.8" y="564.2" width="2.9" height="2.9" fill="#ef9a18"/><rect x="806.0" y="556.4" width="8.1" height="2.9" fill="#ef9a18"/><rect x="803.4" y="566.8" width="10.7" height="2.9" fill="#ef9a18"/><rect x="803.4" y="569.4" width="5.5" height="2.9" fill="#ef9a18"/><rect x="938.6" y="504.4" width="2.9" height="2.9" fill="#f6c01c"/><rect x="941.2" y="504.4" width="5.5" height="2.9" fill="#f9dc20"/><rect x="946.4" y="504.4" width="2.9" height="2.9" fill="#f6c01c"/><rect x="938.6" y="507.0" width="2.9" height="2.9" fill="#f6c01c"/><rect x="941.2" y="507.0" width="5.5" height="2.9" fill="#f9dc20"/><rect x="946.4" y="507.0" width="2.9" height="2.9" fill="#f6c01c"/><rect x="941.2" y="501.8" width="5.5" height="2.9" fill="#f6c01c"/><rect x="946.4" y="501.8" width="2.9" height="2.9" fill="#ef9a18"/><rect x="936.0" y="509.6" width="2.9" height="2.9" fill="#ef9a18"/><rect x="941.2" y="509.6" width="8.1" height="2.9" fill="#f6c01c"/><rect x="933.4" y="512.2" width="5.5" height="2.9" fill="#f6c01c"/><rect x="938.6" y="512.2" width="2.9" height="2.9" fill="#ef9a18"/><rect x="933.4" y="514.8" width="5.5" height="2.9" fill="#f6c01c"/><rect x="936.0" y="517.4" width="2.9" height="2.9" fill="#ef9a18"/><rect x="917.8" y="538.2" width="2.9" height="2.9" fill="#f6c01c"/><rect x="920.4" y="538.2" width="5.5" height="2.9" fill="#f9dc20"/><rect x="925.6" y="538.2" width="2.9" height="2.9" fill="#f6c01c"/><rect x="917.8" y="540.8" width="2.9" height="2.9" fill="#ef9a18"/><rect x="920.4" y="540.8" width="2.9" height="2.9" fill="#f6c01c"/><rect x="923.0" y="540.8" width="2.9" height="2.9" fill="#f9dc20"/><rect x="925.6" y="540.8" width="2.9" height="2.9" fill="#f6c01c"/><rect x="920.4" y="535.6" width="8.1" height="2.9" fill="#f6c01c"/><rect x="923.0" y="543.4" width="2.9" height="2.9" fill="#f6c01c"/><rect x="956.8" y="561.6" width="5.5" height="2.9" fill="#ef9a18"/><rect x="962.0" y="561.6" width="8.1" height="2.9" fill="#f6c01c"/><rect x="969.8" y="561.6" width="5.5" height="2.9" fill="#ef9a18"/><rect x="959.4" y="559.0" width="2.9" height="2.9" fill="#ef9a18"/><rect x="962.0" y="559.0" width="8.1" height="2.9" fill="#f6c01c"/><rect x="959.4" y="564.2" width="5.5" height="2.9" fill="#ef9a18"/><rect x="964.6" y="564.2" width="2.9" height="2.9" fill="#f6c01c"/><rect x="967.2" y="564.2" width="5.5" height="2.9" fill="#ef9a18"/><rect x="962.0" y="556.4" width="5.5" height="2.9" fill="#ef9a18"/><rect x="959.4" y="566.8" width="8.1" height="2.9" fill="#ef9a18"/><rect x="959.4" y="569.4" width="5.5" height="2.9" fill="#ef9a18"/><rect x="1081.6" y="499.2" width="2.9" height="2.9" fill="#f6c01c"/><rect x="1084.2" y="499.2" width="8.1" height="2.9" fill="#f9dc20"/><rect x="1092.0" y="499.2" width="2.9" height="2.9" fill="#fdf3a0"/><rect x="1094.6" y="499.2" width="5.5" height="2.9" fill="#f9dc20"/><rect x="1099.8" y="499.2" width="2.9" height="2.9" fill="#f6c01c"/><rect x="1081.6" y="504.4" width="2.9" height="2.9" fill="#f6c01c"/><rect x="1084.2" y="504.4" width="2.9" height="2.9" fill="#f9dc20"/><rect x="1086.8" y="504.4" width="13.3" height="2.9" fill="#fdf3a0"/><rect x="1099.8" y="504.4" width="2.9" height="2.9" fill="#f9dc20"/><rect x="1084.2" y="501.8" width="5.5" height="2.9" fill="#f9dc20"/><rect x="1089.4" y="501.8" width="10.7" height="2.9" fill="#fdf3a0"/><rect x="1099.8" y="501.8" width="2.9" height="2.9" fill="#f9dc20"/><rect x="1102.4" y="501.8" width="2.9" height="2.9" fill="#f6c01c"/><rect x="1086.8" y="496.6" width="2.9" height="2.9" fill="#f6c01c"/><rect x="1089.4" y="496.6" width="8.1" height="2.9" fill="#f9dc20"/><rect x="1099.8" y="496.6" width="2.9" height="2.9" fill="#f6c01c"/><rect x="1086.8" y="507.0" width="13.3" height="2.9" fill="#f9dc20"/><rect x="1099.8" y="507.0" width="2.9" height="2.9" fill="#f6c01c"/><rect x="1086.8" y="509.6" width="8.1" height="2.9" fill="#f6c01c"/><rect x="1089.4" y="494.0" width="2.9" height="2.9" fill="#f6c01c"/><rect x="1086.8" y="512.2" width="5.5" height="2.9" fill="#f6c01c"/><rect x="1086.8" y="514.8" width="5.5" height="2.9" fill="#f6c01c"/><rect x="1086.8" y="517.4" width="5.5" height="2.9" fill="#f6c01c"/><rect x="1079.0" y="522.6" width="5.5" height="2.9" fill="#f6c01c"/><rect x="1084.2" y="522.6" width="2.9" height="2.9" fill="#ef9a18"/><rect x="1079.0" y="525.2" width="2.9" height="2.9" fill="#ef9a18"/><rect x="1081.6" y="525.2" width="2.9" height="2.9" fill="#f6c01c"/><rect x="1071.2" y="530.4" width="2.9" height="2.9" fill="#ef9a18"/><rect x="1073.8" y="530.4" width="5.5" height="2.9" fill="#f6c01c"/><rect x="1079.0" y="530.4" width="2.9" height="2.9" fill="#ef9a18"/><rect x="1073.8" y="527.8" width="2.9" height="2.9" fill="#f6c01c"/><rect x="1076.4" y="527.8" width="2.9" height="2.9" fill="#ef9a18"/><rect x="1068.6" y="533.0" width="5.5" height="2.9" fill="#f6c01c"/><rect x="1073.8" y="533.0" width="5.5" height="2.9" fill="#ef9a18"/><rect x="1068.6" y="535.6" width="5.5" height="2.9" fill="#f6c01c"/><rect x="1115.4" y="553.8" width="8.1" height="2.9" fill="#ef9a18"/><rect x="1115.4" y="556.4" width="5.5" height="2.9" fill="#ef9a18"/><rect x="1110.2" y="564.2" width="2.9" height="2.9" fill="#ef9a18"/><rect x="1110.2" y="566.8" width="2.9" height="2.9" fill="#ef9a18"/></g>
</svg>
</body></html>
